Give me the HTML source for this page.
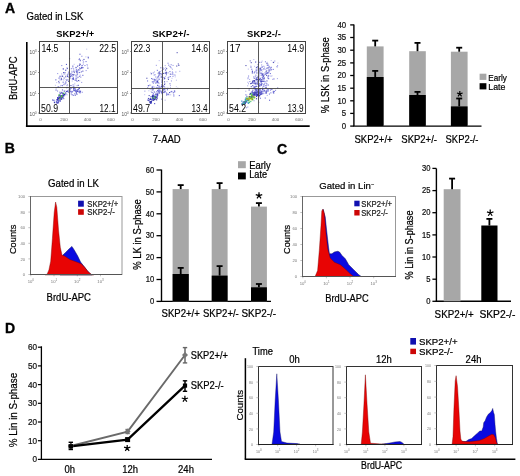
<!DOCTYPE html>
<html><head><meta charset="utf-8"><style>
html,body{margin:0;padding:0;background:#fff;}
svg{display:block;will-change:transform;}
text{font-family:"Liberation Sans", sans-serif;}
</style></head><body>
<svg width="520" height="476" viewBox="0 0 520 476" font-family='"Liberation Sans", sans-serif'>
<rect width="520" height="476" fill="#fff"/>
<text font-size="14" transform="translate(5.00,13.40)" font-weight="bold" stroke="#000" stroke-width="0.35">A</text>
<text font-size="14" transform="translate(4.80,153.20)" font-weight="bold" stroke="#000" stroke-width="0.35">B</text>
<text font-size="14" transform="translate(277.00,153.70)" font-weight="bold" stroke="#000" stroke-width="0.35">C</text>
<text font-size="14" transform="translate(5.00,332.50)" font-weight="bold" stroke="#000" stroke-width="0.35">D</text>
<text font-size="9.5" transform="translate(26.50,19.80) scale(1,1.12)" textLength="56.8" lengthAdjust="spacingAndGlyphs" stroke="#000" stroke-width="0.2">Gated in LSK</text>
<text font-size="9" transform="translate(56.30,36.50) scale(1,1.08)" font-weight="bold" textLength="38.0" lengthAdjust="spacingAndGlyphs">SKP2+/+</text>
<text font-size="9" transform="translate(152.30,36.50) scale(1,1.08)" font-weight="bold" textLength="37.2" lengthAdjust="spacingAndGlyphs">SKP2+/-</text>
<text font-size="9" transform="translate(247.10,36.50) scale(1,1.08)" font-weight="bold" textLength="33.7" lengthAdjust="spacingAndGlyphs">SKP2-/-</text>
<rect x="59.4" y="98.4" width="1.2" height="1.2" fill="#2a2ab0" opacity="0.85"/>
<rect x="58.6" y="97.4" width="1.2" height="1.2" fill="#3333b8" opacity="0.85"/>
<rect x="56.9" y="99.3" width="1.2" height="1.2" fill="#1c1c90" opacity="0.85"/>
<rect x="62.8" y="94.8" width="1.2" height="1.2" fill="#1c1c90" opacity="0.85"/>
<rect x="62.4" y="94.8" width="1.2" height="1.2" fill="#6060d2" opacity="0.85"/>
<rect x="60.7" y="96.4" width="1.2" height="1.2" fill="#3333b8" opacity="0.85"/>
<rect x="56.2" y="102.3" width="1.2" height="1.2" fill="#3333b8" opacity="0.85"/>
<rect x="61.3" y="96.4" width="1.2" height="1.2" fill="#3333b8" opacity="0.85"/>
<rect x="53.3" y="99.7" width="1.2" height="1.2" fill="#3333b8" opacity="0.85"/>
<rect x="56.7" y="99.0" width="1.2" height="1.2" fill="#2a2ab0" opacity="0.85"/>
<rect x="60.2" y="96.4" width="1.2" height="1.2" fill="#1c1c90" opacity="0.85"/>
<rect x="60.1" y="95.2" width="1.2" height="1.2" fill="#24249c" opacity="0.85"/>
<rect x="60.7" y="96.8" width="1.2" height="1.2" fill="#1c1c90" opacity="0.85"/>
<rect x="59.6" y="100.7" width="1.2" height="1.2" fill="#4a4ac8" opacity="0.85"/>
<rect x="62.2" y="97.1" width="1.2" height="1.2" fill="#2a2ab0" opacity="0.85"/>
<rect x="57.1" y="98.0" width="1.2" height="1.2" fill="#4a4ac8" opacity="0.85"/>
<rect x="58.5" y="98.0" width="1.2" height="1.2" fill="#2a2ab0" opacity="0.85"/>
<rect x="61.4" y="95.9" width="1.2" height="1.2" fill="#3333b8" opacity="0.85"/>
<rect x="57.3" y="97.3" width="1.2" height="1.2" fill="#6060d2" opacity="0.85"/>
<rect x="59.5" y="99.8" width="1.2" height="1.2" fill="#4a4ac8" opacity="0.85"/>
<rect x="57.7" y="99.5" width="1.2" height="1.2" fill="#24249c" opacity="0.85"/>
<rect x="59.0" y="94.5" width="1.2" height="1.2" fill="#3434b8" opacity="0.85"/>
<rect x="61.0" y="98.5" width="1.2" height="1.2" fill="#1c1c90" opacity="0.85"/>
<rect x="54.0" y="102.0" width="1.2" height="1.2" fill="#24249c" opacity="0.85"/>
<rect x="58.4" y="96.6" width="1.2" height="1.2" fill="#3434b8" opacity="0.85"/>
<rect x="60.7" y="95.9" width="1.2" height="1.2" fill="#2a2ab0" opacity="0.85"/>
<rect x="56.6" y="101.8" width="1.2" height="1.2" fill="#24249c" opacity="0.85"/>
<rect x="62.2" y="96.5" width="1.2" height="1.2" fill="#4a4ac8" opacity="0.85"/>
<rect x="63.6" y="93.9" width="1.2" height="1.2" fill="#3434b8" opacity="0.85"/>
<rect x="58.4" y="95.5" width="1.2" height="1.2" fill="#1c1c90" opacity="0.85"/>
<rect x="60.4" y="95.0" width="1.2" height="1.2" fill="#6060d2" opacity="0.85"/>
<rect x="57.0" y="97.0" width="1.2" height="1.2" fill="#3434b8" opacity="0.85"/>
<rect x="56.5" y="99.1" width="1.2" height="1.2" fill="#2a2ab0" opacity="0.85"/>
<rect x="60.6" y="91.8" width="1.2" height="1.2" fill="#4a4ac8" opacity="0.85"/>
<rect x="56.0" y="101.2" width="1.2" height="1.2" fill="#6060d2" opacity="0.85"/>
<rect x="63.8" y="94.1" width="1.2" height="1.2" fill="#1c1c90" opacity="0.85"/>
<rect x="52.0" y="99.4" width="1.2" height="1.2" fill="#4a4ac8" opacity="0.85"/>
<rect x="59.6" y="95.5" width="1.2" height="1.2" fill="#6060d2" opacity="0.85"/>
<rect x="57.7" y="101.1" width="1.2" height="1.2" fill="#2a2ab0" opacity="0.85"/>
<rect x="62.5" y="94.6" width="1.2" height="1.2" fill="#3434b8" opacity="0.85"/>
<rect x="60.6" y="97.0" width="1.2" height="1.2" fill="#2a2ab0" opacity="0.85"/>
<rect x="64.2" y="93.8" width="1.2" height="1.2" fill="#24249c" opacity="0.85"/>
<rect x="61.4" y="96.5" width="1.2" height="1.2" fill="#2a2ab0" opacity="0.85"/>
<rect x="56.9" y="102.6" width="1.2" height="1.2" fill="#6060d2" opacity="0.85"/>
<rect x="62.5" y="95.3" width="1.2" height="1.2" fill="#24249c" opacity="0.85"/>
<rect x="53.8" y="101.6" width="1.2" height="1.2" fill="#3434b8" opacity="0.85"/>
<rect x="59.7" y="93.1" width="1.2" height="1.2" fill="#3434b8" opacity="0.85"/>
<rect x="60.1" y="98.7" width="1.2" height="1.2" fill="#6060d2" opacity="0.85"/>
<rect x="57.9" y="102.2" width="1.2" height="1.2" fill="#3434b8" opacity="0.85"/>
<rect x="60.7" y="95.6" width="1.2" height="1.2" fill="#2a2ab0" opacity="0.85"/>
<rect x="61.0" y="97.1" width="1.2" height="1.2" fill="#4a4ac8" opacity="0.85"/>
<rect x="61.0" y="98.1" width="1.2" height="1.2" fill="#24249c" opacity="0.85"/>
<rect x="57.4" y="98.4" width="1.2" height="1.2" fill="#3434b8" opacity="0.85"/>
<rect x="62.2" y="94.6" width="1.2" height="1.2" fill="#6060d2" opacity="0.85"/>
<rect x="58.3" y="100.4" width="1.2" height="1.2" fill="#6060d2" opacity="0.85"/>
<rect x="62.8" y="93.0" width="1.2" height="1.2" fill="#6060d2" opacity="0.85"/>
<rect x="55.8" y="100.6" width="1.2" height="1.2" fill="#6060d2" opacity="0.85"/>
<rect x="58.8" y="97.3" width="1.2" height="1.2" fill="#24249c" opacity="0.85"/>
<rect x="62.0" y="92.5" width="1.2" height="1.2" fill="#6060d2" opacity="0.85"/>
<rect x="61.4" y="92.6" width="1.2" height="1.2" fill="#24249c" opacity="0.85"/>
<rect x="58.2" y="99.9" width="1.2" height="1.2" fill="#6060d2" opacity="0.85"/>
<rect x="63.3" y="95.2" width="1.2" height="1.2" fill="#3333b8" opacity="0.85"/>
<rect x="60.5" y="96.5" width="1.2" height="1.2" fill="#4a4ac8" opacity="0.85"/>
<rect x="60.5" y="97.4" width="1.2" height="1.2" fill="#6060d2" opacity="0.85"/>
<rect x="59.3" y="97.9" width="1.2" height="1.2" fill="#24249c" opacity="0.85"/>
<rect x="61.0" y="95.7" width="1.2" height="1.2" fill="#24249c" opacity="0.85"/>
<rect x="62.0" y="95.9" width="1.2" height="1.2" fill="#3434b8" opacity="0.85"/>
<rect x="65.0" y="92.4" width="1.2" height="1.2" fill="#3333b8" opacity="0.85"/>
<rect x="58.0" y="97.9" width="1.2" height="1.2" fill="#2a2ab0" opacity="0.85"/>
<rect x="60.4" y="98.2" width="1.2" height="1.2" fill="#4a4ac8" opacity="0.85"/>
<rect x="61.1" y="95.0" width="1.4" height="1.4" fill="#38b838" opacity="0.85"/>
<rect x="61.2" y="95.9" width="1.4" height="1.4" fill="#70c040" opacity="0.85"/>
<rect x="58.3" y="94.4" width="1.4" height="1.4" fill="#38b838" opacity="0.85"/>
<rect x="59.1" y="97.9" width="1.4" height="1.4" fill="#70c040" opacity="0.85"/>
<rect x="63.1" y="92.6" width="1.4" height="1.4" fill="#38b838" opacity="0.85"/>
<rect x="60.7" y="96.0" width="1.4" height="1.4" fill="#70c040" opacity="0.85"/>
<rect x="54.9" y="84.8" width="1.1" height="1.1" fill="#c0c0ee" opacity="0.85"/>
<rect x="61.1" y="73.4" width="1.1" height="1.1" fill="#a8a8e8" opacity="0.85"/>
<rect x="56.1" y="82.0" width="1.1" height="1.1" fill="#c0c0ee" opacity="0.85"/>
<rect x="68.1" y="71.8" width="1.1" height="1.1" fill="#7a7adc" opacity="0.85"/>
<rect x="62.9" y="68.6" width="1.1" height="1.1" fill="#a8a8e8" opacity="0.85"/>
<rect x="59.3" y="76.6" width="1.1" height="1.1" fill="#a8a8e8" opacity="0.85"/>
<rect x="69.8" y="75.6" width="1.1" height="1.1" fill="#4a4ac8" opacity="0.85"/>
<rect x="66.3" y="84.9" width="1.1" height="1.1" fill="#a8a8e8" opacity="0.85"/>
<rect x="64.4" y="72.2" width="1.1" height="1.1" fill="#3434b8" opacity="0.85"/>
<rect x="63.6" y="90.8" width="1.1" height="1.1" fill="#a8a8e8" opacity="0.85"/>
<rect x="60.8" y="77.8" width="1.1" height="1.1" fill="#3a3aa8" opacity="0.85"/>
<rect x="65.2" y="76.2" width="1.1" height="1.1" fill="#3a3aa8" opacity="0.85"/>
<rect x="62.7" y="68.3" width="1.1" height="1.1" fill="#3434b8" opacity="0.85"/>
<rect x="70.2" y="73.4" width="1.1" height="1.1" fill="#c0c0ee" opacity="0.85"/>
<rect x="65.4" y="69.6" width="1.1" height="1.1" fill="#a8a8e8" opacity="0.85"/>
<rect x="64.8" y="83.4" width="1.1" height="1.1" fill="#9090e2" opacity="0.85"/>
<rect x="63.6" y="77.5" width="1.1" height="1.1" fill="#4a4ac8" opacity="0.85"/>
<rect x="65.1" y="69.7" width="1.1" height="1.1" fill="#4a4ac8" opacity="0.85"/>
<rect x="57.0" y="90.5" width="1.1" height="1.1" fill="#7a7adc" opacity="0.85"/>
<rect x="61.9" y="89.4" width="1.1" height="1.1" fill="#4a4ac8" opacity="0.85"/>
<rect x="61.6" y="75.5" width="1.1" height="1.1" fill="#4a4ac8" opacity="0.85"/>
<rect x="65.7" y="79.1" width="1.1" height="1.1" fill="#9090e2" opacity="0.85"/>
<rect x="67.5" y="79.1" width="1.1" height="1.1" fill="#9090e2" opacity="0.85"/>
<rect x="66.3" y="79.6" width="1.1" height="1.1" fill="#3434b8" opacity="0.85"/>
<rect x="71.4" y="71.5" width="1.1" height="1.1" fill="#6060d2" opacity="0.85"/>
<rect x="64.5" y="82.8" width="1.1" height="1.1" fill="#9090e2" opacity="0.85"/>
<rect x="55.6" y="87.3" width="1.1" height="1.1" fill="#6060d2" opacity="0.85"/>
<rect x="62.5" y="90.3" width="1.1" height="1.1" fill="#c0c0ee" opacity="0.85"/>
<rect x="60.4" y="84.9" width="1.1" height="1.1" fill="#9090e2" opacity="0.85"/>
<rect x="62.5" y="79.0" width="1.1" height="1.1" fill="#c0c0ee" opacity="0.85"/>
<rect x="62.6" y="81.6" width="1.1" height="1.1" fill="#6060d2" opacity="0.85"/>
<rect x="66.8" y="68.0" width="1.1" height="1.1" fill="#3a3aa8" opacity="0.85"/>
<rect x="67.4" y="76.2" width="1.1" height="1.1" fill="#a8a8e8" opacity="0.85"/>
<rect x="58.5" y="77.6" width="1.1" height="1.1" fill="#4a4ac8" opacity="0.85"/>
<rect x="65.4" y="82.4" width="1.1" height="1.1" fill="#9090e2" opacity="0.85"/>
<rect x="57.7" y="86.6" width="1.1" height="1.1" fill="#3434b8" opacity="0.85"/>
<rect x="67.7" y="73.3" width="1.1" height="1.1" fill="#6060d2" opacity="0.85"/>
<rect x="65.7" y="78.9" width="1.1" height="1.1" fill="#c0c0ee" opacity="0.85"/>
<rect x="59.5" y="75.7" width="1.1" height="1.1" fill="#4a4ac8" opacity="0.85"/>
<rect x="57.7" y="86.1" width="1.1" height="1.1" fill="#9090e2" opacity="0.85"/>
<rect x="63.0" y="72.1" width="1.1" height="1.1" fill="#3434b8" opacity="0.85"/>
<rect x="58.6" y="82.2" width="1.1" height="1.1" fill="#4a4ac8" opacity="0.85"/>
<rect x="59.5" y="86.5" width="1.1" height="1.1" fill="#9090e2" opacity="0.85"/>
<rect x="61.8" y="85.1" width="1.1" height="1.1" fill="#4a4ac8" opacity="0.85"/>
<rect x="59.2" y="91.7" width="1.1" height="1.1" fill="#7a7adc" opacity="0.85"/>
<rect x="55.3" y="79.3" width="1.1" height="1.1" fill="#4a4ac8" opacity="0.85"/>
<rect x="63.6" y="73.6" width="1.1" height="1.1" fill="#9090e2" opacity="0.85"/>
<rect x="55.5" y="89.5" width="1.1" height="1.1" fill="#4a4ac8" opacity="0.85"/>
<rect x="62.1" y="75.8" width="1.1" height="1.1" fill="#3a3aa8" opacity="0.85"/>
<rect x="67.1" y="74.5" width="1.1" height="1.1" fill="#3434b8" opacity="0.85"/>
<rect x="65.4" y="74.6" width="1.1" height="1.1" fill="#a8a8e8" opacity="0.85"/>
<rect x="67.9" y="71.3" width="1.1" height="1.1" fill="#c0c0ee" opacity="0.85"/>
<rect x="57.1" y="73.0" width="1.1" height="1.1" fill="#9090e2" opacity="0.85"/>
<rect x="69.1" y="74.5" width="1.1" height="1.1" fill="#6060d2" opacity="0.85"/>
<rect x="60.8" y="79.1" width="1.1" height="1.1" fill="#3434b8" opacity="0.85"/>
<rect x="61.2" y="65.0" width="1.1" height="1.1" fill="#7a7adc" opacity="0.85"/>
<rect x="71.9" y="78.3" width="1.1" height="1.1" fill="#4a4ac8" opacity="0.85"/>
<rect x="63.4" y="84.1" width="1.1" height="1.1" fill="#6060d2" opacity="0.85"/>
<rect x="66.5" y="67.2" width="1.1" height="1.1" fill="#9090e2" opacity="0.85"/>
<rect x="67.1" y="75.9" width="1.1" height="1.1" fill="#3434b8" opacity="0.85"/>
<rect x="87.3" y="67.6" width="1.1" height="1.1" fill="#3a3aa8" opacity="0.85"/>
<rect x="69.5" y="77.4" width="1.1" height="1.1" fill="#3434b8" opacity="0.85"/>
<rect x="80.9" y="71.3" width="1.1" height="1.1" fill="#6060d2" opacity="0.85"/>
<rect x="72.0" y="73.9" width="1.1" height="1.1" fill="#6060d2" opacity="0.85"/>
<rect x="69.0" y="58.1" width="1.1" height="1.1" fill="#3a3aa8" opacity="0.85"/>
<rect x="76.9" y="70.5" width="1.1" height="1.1" fill="#c0c0ee" opacity="0.85"/>
<rect x="65.1" y="94.4" width="1.1" height="1.1" fill="#a8a8e8" opacity="0.85"/>
<rect x="72.9" y="78.0" width="1.1" height="1.1" fill="#9090e2" opacity="0.85"/>
<rect x="72.5" y="84.1" width="1.1" height="1.1" fill="#9090e2" opacity="0.85"/>
<rect x="68.4" y="77.0" width="1.1" height="1.1" fill="#9090e2" opacity="0.85"/>
<rect x="66.2" y="87.4" width="1.1" height="1.1" fill="#9090e2" opacity="0.85"/>
<rect x="78.6" y="64.9" width="1.1" height="1.1" fill="#c0c0ee" opacity="0.85"/>
<rect x="79.2" y="71.9" width="1.1" height="1.1" fill="#7a7adc" opacity="0.85"/>
<rect x="85.6" y="70.0" width="1.1" height="1.1" fill="#9090e2" opacity="0.85"/>
<rect x="73.8" y="71.7" width="1.1" height="1.1" fill="#3a3aa8" opacity="0.85"/>
<rect x="86.1" y="48.6" width="1.1" height="1.1" fill="#c0c0ee" opacity="0.85"/>
<rect x="75.8" y="71.0" width="1.1" height="1.1" fill="#4a4ac8" opacity="0.85"/>
<rect x="65.2" y="81.4" width="1.1" height="1.1" fill="#6060d2" opacity="0.85"/>
<rect x="75.4" y="74.7" width="1.1" height="1.1" fill="#6060d2" opacity="0.85"/>
<rect x="71.1" y="74.6" width="1.1" height="1.1" fill="#4a4ac8" opacity="0.85"/>
<rect x="65.5" y="93.5" width="1.1" height="1.1" fill="#7a7adc" opacity="0.85"/>
<rect x="68.0" y="80.7" width="1.1" height="1.1" fill="#3a3aa8" opacity="0.85"/>
<rect x="79.0" y="67.3" width="1.1" height="1.1" fill="#7a7adc" opacity="0.85"/>
<rect x="76.3" y="72.2" width="1.1" height="1.1" fill="#3a3aa8" opacity="0.85"/>
<rect x="76.2" y="77.9" width="1.1" height="1.1" fill="#a8a8e8" opacity="0.85"/>
<rect x="79.0" y="64.7" width="1.1" height="1.1" fill="#3a3aa8" opacity="0.85"/>
<rect x="85.3" y="56.3" width="1.1" height="1.1" fill="#c0c0ee" opacity="0.85"/>
<rect x="78.7" y="72.0" width="1.1" height="1.1" fill="#6060d2" opacity="0.85"/>
<rect x="76.5" y="74.4" width="1.1" height="1.1" fill="#7a7adc" opacity="0.85"/>
<rect x="80.2" y="76.6" width="1.1" height="1.1" fill="#7a7adc" opacity="0.85"/>
<rect x="82.3" y="74.8" width="1.1" height="1.1" fill="#4a4ac8" opacity="0.85"/>
<rect x="85.5" y="61.0" width="1.1" height="1.1" fill="#6060d2" opacity="0.85"/>
<rect x="82.9" y="67.1" width="1.1" height="1.1" fill="#a8a8e8" opacity="0.85"/>
<rect x="75.4" y="78.3" width="1.1" height="1.1" fill="#4a4ac8" opacity="0.85"/>
<rect x="73.8" y="73.8" width="1.1" height="1.1" fill="#a8a8e8" opacity="0.85"/>
<rect x="81.3" y="55.7" width="1.1" height="1.1" fill="#7a7adc" opacity="0.85"/>
<rect x="86.9" y="65.3" width="1.1" height="1.1" fill="#a8a8e8" opacity="0.85"/>
<rect x="72.3" y="67.4" width="1.1" height="1.1" fill="#9090e2" opacity="0.85"/>
<rect x="70.8" y="68.1" width="1.1" height="1.1" fill="#7a7adc" opacity="0.85"/>
<rect x="73.0" y="78.7" width="1.1" height="1.1" fill="#3434b8" opacity="0.85"/>
<rect x="73.1" y="74.7" width="1.1" height="1.1" fill="#c0c0ee" opacity="0.85"/>
<rect x="73.6" y="63.8" width="1.1" height="1.1" fill="#c0c0ee" opacity="0.85"/>
<rect x="71.7" y="80.5" width="1.1" height="1.1" fill="#c0c0ee" opacity="0.85"/>
<rect x="70.5" y="73.0" width="1.1" height="1.1" fill="#7a7adc" opacity="0.85"/>
<rect x="78.1" y="59.0" width="1.1" height="1.1" fill="#c0c0ee" opacity="0.85"/>
<rect x="66.9" y="84.3" width="1.1" height="1.1" fill="#9090e2" opacity="0.85"/>
<rect x="82.3" y="59.9" width="1.1" height="1.1" fill="#a8a8e8" opacity="0.85"/>
<rect x="72.3" y="65.6" width="1.1" height="1.1" fill="#3434b8" opacity="0.85"/>
<rect x="79.8" y="60.1" width="1.1" height="1.1" fill="#3a3aa8" opacity="0.85"/>
<rect x="77.5" y="70.2" width="1.1" height="1.1" fill="#9090e2" opacity="0.85"/>
<rect x="62.8" y="82.2" width="1.1" height="1.1" fill="#a8a8e8" opacity="0.85"/>
<rect x="75.8" y="79.7" width="1.1" height="1.1" fill="#6060d2" opacity="0.85"/>
<rect x="76.9" y="70.6" width="1.1" height="1.1" fill="#7a7adc" opacity="0.85"/>
<rect x="72.7" y="77.7" width="1.1" height="1.1" fill="#4a4ac8" opacity="0.85"/>
<rect x="79.6" y="74.6" width="1.1" height="1.1" fill="#9090e2" opacity="0.85"/>
<rect x="87.6" y="56.5" width="1.1" height="1.1" fill="#7a7adc" opacity="0.85"/>
<rect x="76.4" y="68.7" width="1.1" height="1.1" fill="#c0c0ee" opacity="0.85"/>
<rect x="68.8" y="84.9" width="1.1" height="1.1" fill="#c0c0ee" opacity="0.85"/>
<rect x="70.2" y="87.2" width="1.1" height="1.1" fill="#3a3aa8" opacity="0.85"/>
<rect x="75.4" y="67.6" width="1.1" height="1.1" fill="#c0c0ee" opacity="0.85"/>
<rect x="73.5" y="70.5" width="1.1" height="1.1" fill="#9090e2" opacity="0.85"/>
<rect x="70.3" y="75.8" width="1.1" height="1.1" fill="#3434b8" opacity="0.85"/>
<rect x="75.7" y="69.6" width="1.1" height="1.1" fill="#6060d2" opacity="0.85"/>
<rect x="77.1" y="65.6" width="1.1" height="1.1" fill="#3434b8" opacity="0.85"/>
<rect x="82.6" y="61.6" width="1.1" height="1.1" fill="#c0c0ee" opacity="0.85"/>
<rect x="82.3" y="70.6" width="1.1" height="1.1" fill="#3a3aa8" opacity="0.85"/>
<rect x="77.9" y="80.0" width="1.1" height="1.1" fill="#3a3aa8" opacity="0.85"/>
<rect x="69.4" y="73.8" width="1.1" height="1.1" fill="#3434b8" opacity="0.85"/>
<rect x="82.0" y="67.2" width="1.1" height="1.1" fill="#4a4ac8" opacity="0.85"/>
<rect x="66.7" y="94.2" width="1.1" height="1.1" fill="#c0c0ee" opacity="0.85"/>
<rect x="79.6" y="68.1" width="1.1" height="1.1" fill="#3a3aa8" opacity="0.85"/>
<rect x="70.4" y="85.0" width="1.1" height="1.1" fill="#3a3aa8" opacity="0.85"/>
<rect x="79.0" y="75.9" width="1.1" height="1.1" fill="#7a7adc" opacity="0.85"/>
<rect x="65.9" y="63.9" width="1.1" height="1.1" fill="#4a4ac8" opacity="0.85"/>
<rect x="71.9" y="78.3" width="1.1" height="1.1" fill="#7a7adc" opacity="0.85"/>
<rect x="81.8" y="65.1" width="1.1" height="1.1" fill="#6060d2" opacity="0.85"/>
<rect x="77.0" y="73.5" width="1.1" height="1.1" fill="#6060d2" opacity="0.85"/>
<rect x="63.2" y="98.1" width="1.1" height="1.1" fill="#4a4ac8" opacity="0.85"/>
<rect x="79.6" y="63.9" width="1.1" height="1.1" fill="#3a3aa8" opacity="0.85"/>
<rect x="79.4" y="53.7" width="1.1" height="1.1" fill="#4a4ac8" opacity="0.85"/>
<rect x="78.2" y="69.2" width="1.1" height="1.1" fill="#3434b8" opacity="0.85"/>
<rect x="73.1" y="70.8" width="1.1" height="1.1" fill="#3434b8" opacity="0.85"/>
<rect x="76.5" y="80.8" width="1.1" height="1.1" fill="#6060d2" opacity="0.85"/>
<rect x="71.8" y="75.5" width="1.1" height="1.1" fill="#7a7adc" opacity="0.85"/>
<rect x="81.0" y="67.1" width="1.1" height="1.1" fill="#3434b8" opacity="0.85"/>
<rect x="68.3" y="88.7" width="1.1" height="1.1" fill="#9090e2" opacity="0.85"/>
<rect x="75.6" y="76.4" width="1.1" height="1.1" fill="#6060d2" opacity="0.85"/>
<rect x="79.8" y="59.5" width="1.1" height="1.1" fill="#9090e2" opacity="0.85"/>
<rect x="74.2" y="84.4" width="1.1" height="1.1" fill="#c0c0ee" opacity="0.85"/>
<rect x="74.6" y="79.7" width="1.1" height="1.1" fill="#4a4ac8" opacity="0.85"/>
<rect x="80.7" y="67.7" width="1.1" height="1.1" fill="#4a4ac8" opacity="0.85"/>
<rect x="77.4" y="76.7" width="1.1" height="1.1" fill="#4a4ac8" opacity="0.85"/>
<rect x="73.9" y="89.9" width="1.1" height="1.1" fill="#9090e2" opacity="0.85"/>
<rect x="76.7" y="71.8" width="1.1" height="1.1" fill="#7a7adc" opacity="0.85"/>
<rect x="73.1" y="71.1" width="1.1" height="1.1" fill="#c0c0ee" opacity="0.85"/>
<rect x="80.9" y="65.2" width="1.1" height="1.1" fill="#9090e2" opacity="0.85"/>
<rect x="76.0" y="69.3" width="1.1" height="1.1" fill="#7a7adc" opacity="0.85"/>
<rect x="78.9" y="58.5" width="1.1" height="1.1" fill="#3434b8" opacity="0.85"/>
<rect x="75.5" y="66.9" width="1.1" height="1.1" fill="#3434b8" opacity="0.85"/>
<rect x="83.0" y="61.4" width="1.1" height="1.1" fill="#9090e2" opacity="0.85"/>
<rect x="73.0" y="74.3" width="1.1" height="1.1" fill="#3a3aa8" opacity="0.85"/>
<rect x="79.3" y="63.1" width="1.1" height="1.1" fill="#9090e2" opacity="0.85"/>
<rect x="79.1" y="80.3" width="1.1" height="1.1" fill="#a8a8e8" opacity="0.85"/>
<rect x="73.1" y="68.4" width="1.1" height="1.1" fill="#7a7adc" opacity="0.85"/>
<rect x="83.4" y="58.9" width="1.1" height="1.1" fill="#3a3aa8" opacity="0.85"/>
<rect x="74.1" y="87.5" width="1.1" height="1.1" fill="#7a7adc" opacity="0.85"/>
<rect x="72.8" y="76.8" width="1.1" height="1.1" fill="#7a7adc" opacity="0.85"/>
<rect x="87.8" y="57.3" width="1.1" height="1.1" fill="#3434b8" opacity="0.85"/>
<rect x="74.2" y="82.8" width="1.1" height="1.1" fill="#c0c0ee" opacity="0.85"/>
<rect x="86.5" y="64.0" width="1.1" height="1.1" fill="#9090e2" opacity="0.85"/>
<rect x="76.8" y="90.5" width="1.1" height="1.1" fill="#7a7adc" opacity="0.85"/>
<rect x="78.9" y="87.8" width="1.1" height="1.1" fill="#3434b8" opacity="0.85"/>
<rect x="76.8" y="90.8" width="1.1" height="1.1" fill="#3434b8" opacity="0.85"/>
<rect x="70.2" y="91.0" width="1.1" height="1.1" fill="#7a7adc" opacity="0.85"/>
<rect x="67.1" y="90.2" width="1.1" height="1.1" fill="#9090e2" opacity="0.85"/>
<rect x="73.2" y="87.9" width="1.1" height="1.1" fill="#9090e2" opacity="0.85"/>
<rect x="73.6" y="90.2" width="1.1" height="1.1" fill="#6060d2" opacity="0.85"/>
<rect x="71.7" y="94.3" width="1.1" height="1.1" fill="#4a4ac8" opacity="0.85"/>
<rect x="78.8" y="91.1" width="1.1" height="1.1" fill="#7a7adc" opacity="0.85"/>
<rect x="76.4" y="93.7" width="1.1" height="1.1" fill="#3434b8" opacity="0.85"/>
<rect x="75.7" y="92.4" width="1.1" height="1.1" fill="#3434b8" opacity="0.85"/>
<rect x="73.1" y="94.8" width="1.1" height="1.1" fill="#6060d2" opacity="0.85"/>
<rect x="78.9" y="92.0" width="1.1" height="1.1" fill="#9090e2" opacity="0.85"/>
<rect x="66.6" y="86.9" width="1.1" height="1.1" fill="#3434b8" opacity="0.85"/>
<rect x="64.2" y="90.5" width="1.1" height="1.1" fill="#4a4ac8" opacity="0.85"/>
<rect x="79.7" y="91.1" width="1.1" height="1.1" fill="#3434b8" opacity="0.85"/>
<rect x="75.3" y="89.6" width="1.1" height="1.1" fill="#7a7adc" opacity="0.85"/>
<rect x="80.0" y="90.5" width="1.1" height="1.1" fill="#7a7adc" opacity="0.85"/>
<rect x="67.9" y="91.8" width="1.1" height="1.1" fill="#7a7adc" opacity="0.85"/>
<rect x="76.0" y="92.3" width="1.1" height="1.1" fill="#4a4ac8" opacity="0.85"/>
<rect x="73.1" y="88.1" width="1.1" height="1.1" fill="#4a4ac8" opacity="0.85"/>
<rect x="75.4" y="90.6" width="1.1" height="1.1" fill="#4a4ac8" opacity="0.85"/>
<rect x="75.5" y="91.3" width="1.1" height="1.1" fill="#7a7adc" opacity="0.85"/>
<rect x="70.8" y="87.7" width="1.1" height="1.1" fill="#7a7adc" opacity="0.85"/>
<rect x="70.2" y="90.4" width="1.1" height="1.1" fill="#9090e2" opacity="0.85"/>
<rect x="72.7" y="85.7" width="1.1" height="1.1" fill="#4a4ac8" opacity="0.85"/>
<rect x="78.8" y="89.8" width="1.1" height="1.1" fill="#9090e2" opacity="0.85"/>
<rect x="75.4" y="90.6" width="1.1" height="1.1" fill="#3434b8" opacity="0.85"/>
<rect x="78.1" y="91.2" width="1.1" height="1.1" fill="#6060d2" opacity="0.85"/>
<rect x="78.3" y="88.1" width="1.1" height="1.1" fill="#6060d2" opacity="0.85"/>
<rect x="74.2" y="87.8" width="1.1" height="1.1" fill="#6060d2" opacity="0.85"/>
<rect x="74.5" y="88.0" width="1.1" height="1.1" fill="#9090e2" opacity="0.85"/>
<rect x="74.6" y="89.1" width="1.1" height="1.1" fill="#6060d2" opacity="0.85"/>
<rect x="73.2" y="88.5" width="1.1" height="1.1" fill="#6060d2" opacity="0.85"/>
<rect x="69.3" y="89.4" width="1.1" height="1.1" fill="#6060d2" opacity="0.85"/>
<rect x="70.7" y="93.4" width="1.1" height="1.1" fill="#6060d2" opacity="0.85"/>
<rect x="67.7" y="90.5" width="1.1" height="1.1" fill="#4a4ac8" opacity="0.85"/>
<rect x="74.1" y="93.2" width="1.1" height="1.1" fill="#7a7adc" opacity="0.85"/>
<rect x="70.4" y="91.3" width="1.1" height="1.1" fill="#4a4ac8" opacity="0.85"/>
<rect x="66.1" y="90.9" width="1.1" height="1.1" fill="#4a4ac8" opacity="0.85"/>
<rect x="76.7" y="90.6" width="1.1" height="1.1" fill="#4a4ac8" opacity="0.85"/>
<rect x="79.7" y="91.2" width="1.1" height="1.1" fill="#4a4ac8" opacity="0.85"/>
<rect x="71.4" y="91.6" width="1.1" height="1.1" fill="#4a4ac8" opacity="0.85"/>
<rect x="75.3" y="89.8" width="1.1" height="1.1" fill="#6060d2" opacity="0.85"/>
<rect x="73.8" y="86.5" width="1.1" height="1.1" fill="#9090e2" opacity="0.85"/>
<rect x="77.4" y="89.1" width="1.1" height="1.1" fill="#4a4ac8" opacity="0.85"/>
<rect x="72.9" y="87.0" width="1.1" height="1.1" fill="#6060d2" opacity="0.85"/>
<rect x="77.7" y="84.8" width="1.1" height="1.1" fill="#3434b8" opacity="0.85"/>
<rect x="81.7" y="91.7" width="1.1" height="1.1" fill="#7a7adc" opacity="0.85"/>
<rect x="79.6" y="92.3" width="1.1" height="1.1" fill="#6060d2" opacity="0.85"/>
<rect x="66.4" y="90.9" width="1.1" height="1.1" fill="#4a4ac8" opacity="0.85"/>
<rect x="76.5" y="85.1" width="1.1" height="1.1" fill="#9090e2" opacity="0.85"/>
<rect x="75.0" y="88.9" width="1.1" height="1.1" fill="#9090e2" opacity="0.85"/>
<rect x="73.4" y="90.0" width="1.1" height="1.1" fill="#4a4ac8" opacity="0.85"/>
<rect x="77.5" y="89.2" width="1.1" height="1.1" fill="#3434b8" opacity="0.85"/>
<rect x="73.1" y="88.8" width="1.1" height="1.1" fill="#7a7adc" opacity="0.85"/>
<rect x="74.8" y="94.6" width="1.1" height="1.1" fill="#3434b8" opacity="0.85"/>
<rect x="66.4" y="91.0" width="1.1" height="1.1" fill="#3434b8" opacity="0.85"/>
<rect x="69.6" y="88.4" width="1.1" height="1.1" fill="#3434b8" opacity="0.85"/>
<rect x="71.9" y="90.9" width="1.1" height="1.1" fill="#7a7adc" opacity="0.85"/>
<rect x="84.5" y="65.0" width="1.0" height="1.0" fill="#7a7adc" opacity="0.85"/>
<rect x="71.4" y="70.6" width="1.0" height="1.0" fill="#a8a8e8" opacity="0.85"/>
<rect x="84.3" y="65.1" width="1.0" height="1.0" fill="#a8a8e8" opacity="0.85"/>
<rect x="59.5" y="79.4" width="1.0" height="1.0" fill="#9090e2" opacity="0.85"/>
<rect x="82.8" y="63.6" width="1.0" height="1.0" fill="#7a7adc" opacity="0.85"/>
<rect x="60.3" y="76.0" width="1.0" height="1.0" fill="#9090e2" opacity="0.85"/>
<rect x="63.3" y="79.5" width="1.0" height="1.0" fill="#a8a8e8" opacity="0.85"/>
<rect x="81.2" y="81.9" width="1.0" height="1.0" fill="#7a7adc" opacity="0.85"/>
<rect x="58.2" y="80.9" width="1.0" height="1.0" fill="#3a3aa8" opacity="0.85"/>
<rect x="79.3" y="69.6" width="1.0" height="1.0" fill="#9090e2" opacity="0.85"/>
<rect x="39.5" y="41.5" width="78.0" height="72.0" fill="none" stroke="#444" stroke-width="1.0"/>
<line x1="69.5" y1="41.5" x2="69.5" y2="113.5" stroke="#444" stroke-width="0.9"/>
<line x1="39.5" y1="87.5" x2="117.5" y2="87.5" stroke="#444" stroke-width="0.9"/>
<text font-size="10" transform="translate(41.40,52.00)" textLength="17.0" lengthAdjust="spacingAndGlyphs">14.5</text>
<text font-size="10" transform="translate(116.20,52.00)" text-anchor="end" textLength="17.0" lengthAdjust="spacingAndGlyphs">22.5</text>
<text font-size="10" transform="translate(41.10,111.80)" textLength="17.0" lengthAdjust="spacingAndGlyphs">50.9</text>
<text font-size="10" transform="translate(115.50,111.80)" text-anchor="end" textLength="16.0" lengthAdjust="spacingAndGlyphs">12.1</text>
<text font-size="4.8" transform="translate(29.50,54.30)" fill="#555">10<tspan font-size="3.4" dy="-2.2">3</tspan></text>
<line x1="38.2" y1="51.5" x2="39.5" y2="51.5" stroke="#555" stroke-width="0.8"/>
<text font-size="4.8" transform="translate(29.50,75.30)" fill="#555">10<tspan font-size="3.4" dy="-2.2">2</tspan></text>
<line x1="38.2" y1="72.5" x2="39.5" y2="72.5" stroke="#555" stroke-width="0.8"/>
<text font-size="4.8" transform="translate(29.50,96.30)" fill="#555">10<tspan font-size="3.4" dy="-2.2">1</tspan></text>
<line x1="38.2" y1="93.5" x2="39.5" y2="93.5" stroke="#555" stroke-width="0.8"/>
<text font-size="4.8" transform="translate(29.50,115.80)" fill="#555">10<tspan font-size="3.4" dy="-2.2">0</tspan></text>
<line x1="38.2" y1="113.0" x2="39.5" y2="113.0" stroke="#555" stroke-width="0.8"/>
<text font-size="4.4" transform="translate(40.50,120.50)" text-anchor="middle" fill="#666">0</text>
<text font-size="4.4" transform="translate(64.00,120.50)" text-anchor="middle" fill="#666">200</text>
<text font-size="4.4" transform="translate(87.50,120.50)" text-anchor="middle" fill="#666">400</text>
<text font-size="4.4" transform="translate(111.00,120.50)" text-anchor="middle" fill="#666">600</text>
<rect x="152.2" y="94.8" width="1.2" height="1.2" fill="#3434b8" opacity="0.85"/>
<rect x="150.4" y="101.0" width="1.2" height="1.2" fill="#3434b8" opacity="0.85"/>
<rect x="150.9" y="98.8" width="1.2" height="1.2" fill="#4a4ac8" opacity="0.85"/>
<rect x="155.3" y="96.2" width="1.2" height="1.2" fill="#1c1c90" opacity="0.85"/>
<rect x="149.4" y="100.9" width="1.2" height="1.2" fill="#1c1c90" opacity="0.85"/>
<rect x="151.7" y="95.8" width="1.2" height="1.2" fill="#4a4ac8" opacity="0.85"/>
<rect x="154.9" y="98.2" width="1.2" height="1.2" fill="#24249c" opacity="0.85"/>
<rect x="149.6" y="98.8" width="1.2" height="1.2" fill="#1c1c90" opacity="0.85"/>
<rect x="154.0" y="103.0" width="1.2" height="1.2" fill="#4a4ac8" opacity="0.85"/>
<rect x="149.7" y="98.5" width="1.2" height="1.2" fill="#2a2ab0" opacity="0.85"/>
<rect x="156.7" y="95.6" width="1.2" height="1.2" fill="#6060d2" opacity="0.85"/>
<rect x="153.4" y="95.9" width="1.2" height="1.2" fill="#4a4ac8" opacity="0.85"/>
<rect x="156.7" y="94.9" width="1.2" height="1.2" fill="#3434b8" opacity="0.85"/>
<rect x="151.8" y="95.8" width="1.2" height="1.2" fill="#1c1c90" opacity="0.85"/>
<rect x="150.6" y="101.1" width="1.2" height="1.2" fill="#1c1c90" opacity="0.85"/>
<rect x="154.3" y="95.8" width="1.2" height="1.2" fill="#6060d2" opacity="0.85"/>
<rect x="153.1" y="98.4" width="1.2" height="1.2" fill="#3434b8" opacity="0.85"/>
<rect x="155.7" y="96.9" width="1.2" height="1.2" fill="#3333b8" opacity="0.85"/>
<rect x="150.3" y="102.6" width="1.2" height="1.2" fill="#4a4ac8" opacity="0.85"/>
<rect x="152.8" y="98.3" width="1.2" height="1.2" fill="#6060d2" opacity="0.85"/>
<rect x="156.5" y="97.7" width="1.2" height="1.2" fill="#24249c" opacity="0.85"/>
<rect x="150.0" y="101.8" width="1.2" height="1.2" fill="#1c1c90" opacity="0.85"/>
<rect x="155.2" y="94.3" width="1.2" height="1.2" fill="#6060d2" opacity="0.85"/>
<rect x="154.0" y="98.5" width="1.2" height="1.2" fill="#1c1c90" opacity="0.85"/>
<rect x="153.4" y="98.4" width="1.2" height="1.2" fill="#3434b8" opacity="0.85"/>
<rect x="154.8" y="97.0" width="1.2" height="1.2" fill="#4a4ac8" opacity="0.85"/>
<rect x="150.3" y="96.2" width="1.2" height="1.2" fill="#4a4ac8" opacity="0.85"/>
<rect x="151.9" y="96.9" width="1.2" height="1.2" fill="#6060d2" opacity="0.85"/>
<rect x="152.2" y="97.8" width="1.2" height="1.2" fill="#1c1c90" opacity="0.85"/>
<rect x="153.5" y="96.3" width="1.2" height="1.2" fill="#24249c" opacity="0.85"/>
<rect x="148.1" y="99.9" width="1.2" height="1.2" fill="#24249c" opacity="0.85"/>
<rect x="156.5" y="96.5" width="1.2" height="1.2" fill="#3333b8" opacity="0.85"/>
<rect x="147.9" y="97.9" width="1.2" height="1.2" fill="#2a2ab0" opacity="0.85"/>
<rect x="147.1" y="99.5" width="1.2" height="1.2" fill="#6060d2" opacity="0.85"/>
<rect x="148.3" y="99.6" width="1.2" height="1.2" fill="#6060d2" opacity="0.85"/>
<rect x="154.1" y="99.0" width="1.2" height="1.2" fill="#24249c" opacity="0.85"/>
<rect x="151.2" y="99.0" width="1.2" height="1.2" fill="#4a4ac8" opacity="0.85"/>
<rect x="153.2" y="97.0" width="1.2" height="1.2" fill="#6060d2" opacity="0.85"/>
<rect x="151.5" y="99.9" width="1.2" height="1.2" fill="#4a4ac8" opacity="0.85"/>
<rect x="156.5" y="94.0" width="1.2" height="1.2" fill="#24249c" opacity="0.85"/>
<rect x="156.0" y="99.2" width="1.2" height="1.2" fill="#1c1c90" opacity="0.85"/>
<rect x="152.9" y="95.1" width="1.2" height="1.2" fill="#6060d2" opacity="0.85"/>
<rect x="150.0" y="98.5" width="1.2" height="1.2" fill="#2a2ab0" opacity="0.85"/>
<rect x="150.4" y="101.3" width="1.2" height="1.2" fill="#3434b8" opacity="0.85"/>
<rect x="153.3" y="94.5" width="1.2" height="1.2" fill="#6060d2" opacity="0.85"/>
<rect x="149.9" y="98.8" width="1.2" height="1.2" fill="#2a2ab0" opacity="0.85"/>
<rect x="153.0" y="99.7" width="1.2" height="1.2" fill="#24249c" opacity="0.85"/>
<rect x="150.8" y="101.4" width="1.2" height="1.2" fill="#2a2ab0" opacity="0.85"/>
<rect x="152.2" y="98.5" width="1.2" height="1.2" fill="#3434b8" opacity="0.85"/>
<rect x="154.9" y="95.9" width="1.2" height="1.2" fill="#2a2ab0" opacity="0.85"/>
<rect x="149.0" y="102.0" width="1.2" height="1.2" fill="#6060d2" opacity="0.85"/>
<rect x="152.4" y="94.6" width="1.2" height="1.2" fill="#3333b8" opacity="0.85"/>
<rect x="152.0" y="96.5" width="1.2" height="1.2" fill="#24249c" opacity="0.85"/>
<rect x="154.7" y="97.0" width="1.2" height="1.2" fill="#2a2ab0" opacity="0.85"/>
<rect x="150.2" y="102.8" width="1.2" height="1.2" fill="#3434b8" opacity="0.85"/>
<rect x="154.4" y="95.8" width="1.4" height="1.4" fill="#38b838" opacity="0.85"/>
<rect x="152.0" y="97.2" width="1.4" height="1.4" fill="#38b838" opacity="0.85"/>
<rect x="154.1" y="97.4" width="1.4" height="1.4" fill="#70c040" opacity="0.85"/>
<rect x="165.9" y="74.4" width="1.1" height="1.1" fill="#a8a8e8" opacity="0.85"/>
<rect x="147.1" y="87.1" width="1.1" height="1.1" fill="#9090e2" opacity="0.85"/>
<rect x="163.4" y="76.9" width="1.1" height="1.1" fill="#6060d2" opacity="0.85"/>
<rect x="160.9" y="75.7" width="1.1" height="1.1" fill="#9090e2" opacity="0.85"/>
<rect x="152.1" y="86.1" width="1.1" height="1.1" fill="#7a7adc" opacity="0.85"/>
<rect x="154.5" y="74.2" width="1.1" height="1.1" fill="#7a7adc" opacity="0.85"/>
<rect x="148.6" y="95.0" width="1.1" height="1.1" fill="#3a3aa8" opacity="0.85"/>
<rect x="168.2" y="64.6" width="1.1" height="1.1" fill="#6060d2" opacity="0.85"/>
<rect x="151.9" y="86.6" width="1.1" height="1.1" fill="#4a4ac8" opacity="0.85"/>
<rect x="153.7" y="79.5" width="1.1" height="1.1" fill="#4a4ac8" opacity="0.85"/>
<rect x="158.4" y="71.8" width="1.1" height="1.1" fill="#3a3aa8" opacity="0.85"/>
<rect x="158.6" y="91.7" width="1.1" height="1.1" fill="#4a4ac8" opacity="0.85"/>
<rect x="155.6" y="86.7" width="1.1" height="1.1" fill="#a8a8e8" opacity="0.85"/>
<rect x="154.8" y="81.8" width="1.1" height="1.1" fill="#a8a8e8" opacity="0.85"/>
<rect x="154.1" y="78.8" width="1.1" height="1.1" fill="#4a4ac8" opacity="0.85"/>
<rect x="144.1" y="94.1" width="1.1" height="1.1" fill="#c0c0ee" opacity="0.85"/>
<rect x="150.6" y="91.0" width="1.1" height="1.1" fill="#c0c0ee" opacity="0.85"/>
<rect x="156.2" y="82.2" width="1.1" height="1.1" fill="#4a4ac8" opacity="0.85"/>
<rect x="157.6" y="77.8" width="1.1" height="1.1" fill="#c0c0ee" opacity="0.85"/>
<rect x="151.8" y="87.4" width="1.1" height="1.1" fill="#3434b8" opacity="0.85"/>
<rect x="151.0" y="98.2" width="1.1" height="1.1" fill="#a8a8e8" opacity="0.85"/>
<rect x="158.9" y="78.8" width="1.1" height="1.1" fill="#7a7adc" opacity="0.85"/>
<rect x="155.1" y="82.8" width="1.1" height="1.1" fill="#9090e2" opacity="0.85"/>
<rect x="158.0" y="74.8" width="1.1" height="1.1" fill="#9090e2" opacity="0.85"/>
<rect x="159.7" y="76.9" width="1.1" height="1.1" fill="#c0c0ee" opacity="0.85"/>
<rect x="161.2" y="81.6" width="1.1" height="1.1" fill="#6060d2" opacity="0.85"/>
<rect x="153.5" y="86.1" width="1.1" height="1.1" fill="#c0c0ee" opacity="0.85"/>
<rect x="151.4" y="87.5" width="1.1" height="1.1" fill="#7a7adc" opacity="0.85"/>
<rect x="165.7" y="71.7" width="1.1" height="1.1" fill="#3a3aa8" opacity="0.85"/>
<rect x="158.1" y="82.4" width="1.1" height="1.1" fill="#6060d2" opacity="0.85"/>
<rect x="161.4" y="73.7" width="1.1" height="1.1" fill="#3434b8" opacity="0.85"/>
<rect x="153.9" y="71.4" width="1.1" height="1.1" fill="#a8a8e8" opacity="0.85"/>
<rect x="156.3" y="87.4" width="1.1" height="1.1" fill="#a8a8e8" opacity="0.85"/>
<rect x="159.4" y="71.0" width="1.1" height="1.1" fill="#6060d2" opacity="0.85"/>
<rect x="152.9" y="88.3" width="1.1" height="1.1" fill="#3a3aa8" opacity="0.85"/>
<rect x="151.5" y="86.3" width="1.1" height="1.1" fill="#a8a8e8" opacity="0.85"/>
<rect x="156.8" y="69.8" width="1.1" height="1.1" fill="#6060d2" opacity="0.85"/>
<rect x="164.0" y="84.0" width="1.1" height="1.1" fill="#3a3aa8" opacity="0.85"/>
<rect x="159.7" y="73.2" width="1.1" height="1.1" fill="#3a3aa8" opacity="0.85"/>
<rect x="156.2" y="87.1" width="1.1" height="1.1" fill="#9090e2" opacity="0.85"/>
<rect x="161.6" y="70.1" width="1.1" height="1.1" fill="#7a7adc" opacity="0.85"/>
<rect x="159.0" y="72.3" width="1.1" height="1.1" fill="#6060d2" opacity="0.85"/>
<rect x="156.3" y="77.8" width="1.1" height="1.1" fill="#a8a8e8" opacity="0.85"/>
<rect x="161.7" y="80.0" width="1.1" height="1.1" fill="#3a3aa8" opacity="0.85"/>
<rect x="152.8" y="93.0" width="1.1" height="1.1" fill="#7a7adc" opacity="0.85"/>
<rect x="154.4" y="79.6" width="1.1" height="1.1" fill="#7a7adc" opacity="0.85"/>
<rect x="158.3" y="85.2" width="1.1" height="1.1" fill="#9090e2" opacity="0.85"/>
<rect x="162.5" y="67.2" width="1.1" height="1.1" fill="#9090e2" opacity="0.85"/>
<rect x="151.0" y="78.0" width="1.1" height="1.1" fill="#6060d2" opacity="0.85"/>
<rect x="160.3" y="67.2" width="1.1" height="1.1" fill="#6060d2" opacity="0.85"/>
<rect x="151.8" y="81.2" width="1.1" height="1.1" fill="#7a7adc" opacity="0.85"/>
<rect x="151.9" y="81.4" width="1.1" height="1.1" fill="#a8a8e8" opacity="0.85"/>
<rect x="157.9" y="81.9" width="1.1" height="1.1" fill="#a8a8e8" opacity="0.85"/>
<rect x="157.1" y="82.0" width="1.1" height="1.1" fill="#6060d2" opacity="0.85"/>
<rect x="159.5" y="90.0" width="1.1" height="1.1" fill="#7a7adc" opacity="0.85"/>
<rect x="148.0" y="85.3" width="1.1" height="1.1" fill="#a8a8e8" opacity="0.85"/>
<rect x="152.8" y="82.7" width="1.1" height="1.1" fill="#7a7adc" opacity="0.85"/>
<rect x="152.6" y="89.5" width="1.1" height="1.1" fill="#9090e2" opacity="0.85"/>
<rect x="152.3" y="78.6" width="1.1" height="1.1" fill="#4a4ac8" opacity="0.85"/>
<rect x="161.0" y="84.5" width="1.1" height="1.1" fill="#6060d2" opacity="0.85"/>
<rect x="156.9" y="76.6" width="1.1" height="1.1" fill="#4a4ac8" opacity="0.85"/>
<rect x="155.8" y="80.9" width="1.1" height="1.1" fill="#7a7adc" opacity="0.85"/>
<rect x="158.6" y="83.1" width="1.1" height="1.1" fill="#c0c0ee" opacity="0.85"/>
<rect x="147.0" y="80.4" width="1.1" height="1.1" fill="#6060d2" opacity="0.85"/>
<rect x="152.7" y="81.3" width="1.1" height="1.1" fill="#6060d2" opacity="0.85"/>
<rect x="155.1" y="76.4" width="1.1" height="1.1" fill="#9090e2" opacity="0.85"/>
<rect x="164.3" y="83.0" width="1.1" height="1.1" fill="#9090e2" opacity="0.85"/>
<rect x="149.7" y="89.0" width="1.1" height="1.1" fill="#c0c0ee" opacity="0.85"/>
<rect x="144.3" y="90.6" width="1.1" height="1.1" fill="#9090e2" opacity="0.85"/>
<rect x="153.4" y="96.9" width="1.1" height="1.1" fill="#7a7adc" opacity="0.85"/>
<rect x="147.8" y="85.1" width="1.1" height="1.1" fill="#4a4ac8" opacity="0.85"/>
<rect x="155.2" y="94.1" width="1.1" height="1.1" fill="#4a4ac8" opacity="0.85"/>
<rect x="153.0" y="87.6" width="1.1" height="1.1" fill="#9090e2" opacity="0.85"/>
<rect x="161.7" y="80.8" width="1.1" height="1.1" fill="#7a7adc" opacity="0.85"/>
<rect x="163.8" y="68.0" width="1.1" height="1.1" fill="#c0c0ee" opacity="0.85"/>
<rect x="157.0" y="81.1" width="1.1" height="1.1" fill="#3a3aa8" opacity="0.85"/>
<rect x="165.0" y="69.5" width="1.1" height="1.1" fill="#3434b8" opacity="0.85"/>
<rect x="157.0" y="84.8" width="1.1" height="1.1" fill="#3434b8" opacity="0.85"/>
<rect x="156.8" y="79.8" width="1.1" height="1.1" fill="#c0c0ee" opacity="0.85"/>
<rect x="150.1" y="84.6" width="1.1" height="1.1" fill="#c0c0ee" opacity="0.85"/>
<rect x="149.2" y="84.6" width="1.1" height="1.1" fill="#7a7adc" opacity="0.85"/>
<rect x="160.5" y="73.1" width="1.1" height="1.1" fill="#9090e2" opacity="0.85"/>
<rect x="158.6" y="92.7" width="1.1" height="1.1" fill="#3a3aa8" opacity="0.85"/>
<rect x="150.8" y="73.2" width="1.1" height="1.1" fill="#3434b8" opacity="0.85"/>
<rect x="162.8" y="68.6" width="1.1" height="1.1" fill="#6060d2" opacity="0.85"/>
<rect x="155.8" y="64.8" width="1.1" height="1.1" fill="#9090e2" opacity="0.85"/>
<rect x="158.7" y="78.3" width="1.1" height="1.1" fill="#c0c0ee" opacity="0.85"/>
<rect x="157.0" y="80.6" width="1.1" height="1.1" fill="#3434b8" opacity="0.85"/>
<rect x="152.7" y="72.4" width="1.1" height="1.1" fill="#7a7adc" opacity="0.85"/>
<rect x="148.3" y="90.2" width="1.1" height="1.1" fill="#c0c0ee" opacity="0.85"/>
<rect x="152.6" y="85.7" width="1.1" height="1.1" fill="#c0c0ee" opacity="0.85"/>
<rect x="157.7" y="79.4" width="1.1" height="1.1" fill="#7a7adc" opacity="0.85"/>
<rect x="153.6" y="81.1" width="1.1" height="1.1" fill="#7a7adc" opacity="0.85"/>
<rect x="158.6" y="86.4" width="1.1" height="1.1" fill="#6060d2" opacity="0.85"/>
<rect x="158.0" y="76.2" width="1.1" height="1.1" fill="#4a4ac8" opacity="0.85"/>
<rect x="161.0" y="86.0" width="1.1" height="1.1" fill="#3a3aa8" opacity="0.85"/>
<rect x="157.2" y="87.2" width="1.1" height="1.1" fill="#c0c0ee" opacity="0.85"/>
<rect x="157.4" y="72.8" width="1.1" height="1.1" fill="#a8a8e8" opacity="0.85"/>
<rect x="153.6" y="74.5" width="1.1" height="1.1" fill="#9090e2" opacity="0.85"/>
<rect x="158.8" y="74.4" width="1.1" height="1.1" fill="#4a4ac8" opacity="0.85"/>
<rect x="155.2" y="94.9" width="1.1" height="1.1" fill="#c0c0ee" opacity="0.85"/>
<rect x="158.9" y="90.2" width="1.1" height="1.1" fill="#7a7adc" opacity="0.85"/>
<rect x="154.0" y="87.1" width="1.1" height="1.1" fill="#c0c0ee" opacity="0.85"/>
<rect x="155.4" y="79.5" width="1.1" height="1.1" fill="#6060d2" opacity="0.85"/>
<rect x="154.5" y="79.4" width="1.1" height="1.1" fill="#9090e2" opacity="0.85"/>
<rect x="157.4" y="76.8" width="1.1" height="1.1" fill="#c0c0ee" opacity="0.85"/>
<rect x="146.3" y="77.7" width="1.1" height="1.1" fill="#3a3aa8" opacity="0.85"/>
<rect x="158.5" y="73.1" width="1.1" height="1.1" fill="#3a3aa8" opacity="0.85"/>
<rect x="152.7" y="95.9" width="1.1" height="1.1" fill="#3434b8" opacity="0.85"/>
<rect x="160.9" y="79.4" width="1.1" height="1.1" fill="#c0c0ee" opacity="0.85"/>
<rect x="162.4" y="86.3" width="1.1" height="1.1" fill="#a8a8e8" opacity="0.85"/>
<rect x="167.5" y="62.7" width="1.1" height="1.1" fill="#7a7adc" opacity="0.85"/>
<rect x="168.2" y="76.7" width="1.1" height="1.1" fill="#7a7adc" opacity="0.85"/>
<rect x="164.7" y="65.0" width="1.1" height="1.1" fill="#a8a8e8" opacity="0.85"/>
<rect x="171.7" y="72.5" width="1.1" height="1.1" fill="#a8a8e8" opacity="0.85"/>
<rect x="174.7" y="76.3" width="1.1" height="1.1" fill="#c0c0ee" opacity="0.85"/>
<rect x="169.4" y="71.0" width="1.1" height="1.1" fill="#6060d2" opacity="0.85"/>
<rect x="169.9" y="86.8" width="1.1" height="1.1" fill="#a8a8e8" opacity="0.85"/>
<rect x="166.5" y="81.0" width="1.1" height="1.1" fill="#a8a8e8" opacity="0.85"/>
<rect x="167.5" y="77.3" width="1.1" height="1.1" fill="#7a7adc" opacity="0.85"/>
<rect x="165.5" y="72.6" width="1.1" height="1.1" fill="#3a3aa8" opacity="0.85"/>
<rect x="169.9" y="84.9" width="1.1" height="1.1" fill="#a8a8e8" opacity="0.85"/>
<rect x="161.0" y="98.6" width="1.1" height="1.1" fill="#7a7adc" opacity="0.85"/>
<rect x="173.6" y="74.3" width="1.1" height="1.1" fill="#a8a8e8" opacity="0.85"/>
<rect x="170.6" y="64.2" width="1.1" height="1.1" fill="#7a7adc" opacity="0.85"/>
<rect x="161.0" y="82.2" width="1.1" height="1.1" fill="#c0c0ee" opacity="0.85"/>
<rect x="171.5" y="77.8" width="1.1" height="1.1" fill="#c0c0ee" opacity="0.85"/>
<rect x="169.8" y="73.6" width="1.1" height="1.1" fill="#3a3aa8" opacity="0.85"/>
<rect x="169.5" y="66.0" width="1.1" height="1.1" fill="#6060d2" opacity="0.85"/>
<rect x="161.7" y="78.4" width="1.1" height="1.1" fill="#7a7adc" opacity="0.85"/>
<rect x="172.2" y="72.1" width="1.1" height="1.1" fill="#9090e2" opacity="0.85"/>
<rect x="166.5" y="93.0" width="1.1" height="1.1" fill="#a8a8e8" opacity="0.85"/>
<rect x="176.6" y="52.1" width="1.1" height="1.1" fill="#3a3aa8" opacity="0.85"/>
<rect x="170.7" y="67.7" width="1.1" height="1.1" fill="#c0c0ee" opacity="0.85"/>
<rect x="179.2" y="70.8" width="1.1" height="1.1" fill="#a8a8e8" opacity="0.85"/>
<rect x="176.2" y="65.5" width="1.1" height="1.1" fill="#3a3aa8" opacity="0.85"/>
<rect x="174.6" y="74.6" width="1.1" height="1.1" fill="#9090e2" opacity="0.85"/>
<rect x="160.3" y="75.4" width="1.1" height="1.1" fill="#a8a8e8" opacity="0.85"/>
<rect x="175.3" y="71.5" width="1.1" height="1.1" fill="#9090e2" opacity="0.85"/>
<rect x="165.3" y="67.1" width="1.1" height="1.1" fill="#a8a8e8" opacity="0.85"/>
<rect x="164.6" y="99.6" width="1.1" height="1.1" fill="#a8a8e8" opacity="0.85"/>
<rect x="163.1" y="72.9" width="1.1" height="1.1" fill="#3a3aa8" opacity="0.85"/>
<rect x="164.7" y="72.6" width="1.1" height="1.1" fill="#6060d2" opacity="0.85"/>
<rect x="165.9" y="73.7" width="1.1" height="1.1" fill="#7a7adc" opacity="0.85"/>
<rect x="161.2" y="76.7" width="1.1" height="1.1" fill="#3a3aa8" opacity="0.85"/>
<rect x="172.5" y="64.9" width="1.1" height="1.1" fill="#9090e2" opacity="0.85"/>
<rect x="162.7" y="89.4" width="1.1" height="1.1" fill="#3a3aa8" opacity="0.85"/>
<rect x="165.7" y="72.4" width="1.1" height="1.1" fill="#3a3aa8" opacity="0.85"/>
<rect x="163.7" y="78.4" width="1.1" height="1.1" fill="#6060d2" opacity="0.85"/>
<rect x="163.8" y="86.3" width="1.1" height="1.1" fill="#6060d2" opacity="0.85"/>
<rect x="178.1" y="64.6" width="1.1" height="1.1" fill="#c0c0ee" opacity="0.85"/>
<rect x="172.2" y="73.6" width="1.1" height="1.1" fill="#6060d2" opacity="0.85"/>
<rect x="167.9" y="78.8" width="1.1" height="1.1" fill="#3a3aa8" opacity="0.85"/>
<rect x="164.0" y="81.3" width="1.1" height="1.1" fill="#3a3aa8" opacity="0.85"/>
<rect x="170.3" y="66.9" width="1.1" height="1.1" fill="#9090e2" opacity="0.85"/>
<rect x="169.4" y="83.2" width="1.1" height="1.1" fill="#6060d2" opacity="0.85"/>
<rect x="164.6" y="77.8" width="1.1" height="1.1" fill="#c0c0ee" opacity="0.85"/>
<rect x="171.9" y="71.2" width="1.1" height="1.1" fill="#a8a8e8" opacity="0.85"/>
<rect x="161.5" y="82.0" width="1.1" height="1.1" fill="#a8a8e8" opacity="0.85"/>
<rect x="167.5" y="72.3" width="1.1" height="1.1" fill="#7a7adc" opacity="0.85"/>
<rect x="164.2" y="89.0" width="1.1" height="1.1" fill="#6060d2" opacity="0.85"/>
<rect x="172.4" y="75.8" width="1.1" height="1.1" fill="#7a7adc" opacity="0.85"/>
<rect x="162.4" y="85.2" width="1.1" height="1.1" fill="#3a3aa8" opacity="0.85"/>
<rect x="155.2" y="79.3" width="1.1" height="1.1" fill="#a8a8e8" opacity="0.85"/>
<rect x="178.3" y="64.8" width="1.1" height="1.1" fill="#3a3aa8" opacity="0.85"/>
<rect x="161.9" y="85.1" width="1.1" height="1.1" fill="#7a7adc" opacity="0.85"/>
<rect x="170.9" y="80.4" width="1.1" height="1.1" fill="#9090e2" opacity="0.85"/>
<rect x="169.7" y="76.0" width="1.1" height="1.1" fill="#6060d2" opacity="0.85"/>
<rect x="166.1" y="68.1" width="1.1" height="1.1" fill="#3a3aa8" opacity="0.85"/>
<rect x="170.5" y="73.9" width="1.1" height="1.1" fill="#9090e2" opacity="0.85"/>
<rect x="157.8" y="94.4" width="1.1" height="1.1" fill="#9090e2" opacity="0.85"/>
<rect x="151.6" y="89.3" width="1.1" height="1.1" fill="#3434b8" opacity="0.85"/>
<rect x="161.9" y="93.1" width="1.1" height="1.1" fill="#7a7adc" opacity="0.85"/>
<rect x="163.0" y="91.8" width="1.1" height="1.1" fill="#6060d2" opacity="0.85"/>
<rect x="161.7" y="93.1" width="1.1" height="1.1" fill="#6060d2" opacity="0.85"/>
<rect x="158.0" y="91.1" width="1.1" height="1.1" fill="#9090e2" opacity="0.85"/>
<rect x="174.1" y="90.5" width="1.1" height="1.1" fill="#4a4ac8" opacity="0.85"/>
<rect x="160.9" y="92.3" width="1.1" height="1.1" fill="#7a7adc" opacity="0.85"/>
<rect x="160.2" y="91.1" width="1.1" height="1.1" fill="#9090e2" opacity="0.85"/>
<rect x="166.1" y="94.4" width="1.1" height="1.1" fill="#3434b8" opacity="0.85"/>
<rect x="173.3" y="95.4" width="1.1" height="1.1" fill="#6060d2" opacity="0.85"/>
<rect x="178.8" y="95.0" width="1.1" height="1.1" fill="#6060d2" opacity="0.85"/>
<rect x="157.4" y="92.7" width="1.1" height="1.1" fill="#9090e2" opacity="0.85"/>
<rect x="157.0" y="92.7" width="1.1" height="1.1" fill="#7a7adc" opacity="0.85"/>
<rect x="160.9" y="91.7" width="1.1" height="1.1" fill="#7a7adc" opacity="0.85"/>
<rect x="172.8" y="92.2" width="1.1" height="1.1" fill="#4a4ac8" opacity="0.85"/>
<rect x="153.7" y="91.6" width="1.1" height="1.1" fill="#4a4ac8" opacity="0.85"/>
<rect x="169.0" y="92.0" width="1.1" height="1.1" fill="#3434b8" opacity="0.85"/>
<rect x="157.9" y="90.4" width="1.1" height="1.1" fill="#6060d2" opacity="0.85"/>
<rect x="168.0" y="93.7" width="1.1" height="1.1" fill="#4a4ac8" opacity="0.85"/>
<rect x="158.8" y="86.6" width="1.1" height="1.1" fill="#7a7adc" opacity="0.85"/>
<rect x="164.4" y="91.3" width="1.1" height="1.1" fill="#7a7adc" opacity="0.85"/>
<rect x="157.9" y="88.6" width="1.1" height="1.1" fill="#7a7adc" opacity="0.85"/>
<rect x="166.7" y="94.0" width="1.1" height="1.1" fill="#7a7adc" opacity="0.85"/>
<rect x="166.9" y="89.2" width="1.1" height="1.1" fill="#6060d2" opacity="0.85"/>
<rect x="173.2" y="94.1" width="1.1" height="1.1" fill="#9090e2" opacity="0.85"/>
<rect x="174.1" y="91.4" width="1.1" height="1.1" fill="#6060d2" opacity="0.85"/>
<rect x="166.0" y="92.5" width="1.1" height="1.1" fill="#6060d2" opacity="0.85"/>
<rect x="160.3" y="86.6" width="1.1" height="1.1" fill="#6060d2" opacity="0.85"/>
<rect x="163.6" y="91.6" width="1.1" height="1.1" fill="#3434b8" opacity="0.85"/>
<rect x="170.1" y="91.4" width="1.1" height="1.1" fill="#9090e2" opacity="0.85"/>
<rect x="152.3" y="88.6" width="1.1" height="1.1" fill="#9090e2" opacity="0.85"/>
<rect x="156.3" y="91.0" width="1.1" height="1.1" fill="#6060d2" opacity="0.85"/>
<rect x="167.3" y="87.5" width="1.1" height="1.1" fill="#9090e2" opacity="0.85"/>
<rect x="155.5" y="92.7" width="1.1" height="1.1" fill="#3434b8" opacity="0.85"/>
<rect x="161.3" y="91.5" width="1.1" height="1.1" fill="#4a4ac8" opacity="0.85"/>
<rect x="159.9" y="88.2" width="1.1" height="1.1" fill="#9090e2" opacity="0.85"/>
<rect x="171.1" y="90.9" width="1.1" height="1.1" fill="#6060d2" opacity="0.85"/>
<rect x="168.3" y="94.3" width="1.1" height="1.1" fill="#9090e2" opacity="0.85"/>
<rect x="160.8" y="90.7" width="1.1" height="1.1" fill="#7a7adc" opacity="0.85"/>
<rect x="151.5" y="91.9" width="1.1" height="1.1" fill="#4a4ac8" opacity="0.85"/>
<rect x="158.9" y="89.3" width="1.1" height="1.1" fill="#7a7adc" opacity="0.85"/>
<rect x="171.2" y="91.2" width="1.1" height="1.1" fill="#7a7adc" opacity="0.85"/>
<rect x="173.8" y="90.6" width="1.1" height="1.1" fill="#7a7adc" opacity="0.85"/>
<rect x="163.6" y="92.1" width="1.1" height="1.1" fill="#9090e2" opacity="0.85"/>
<rect x="158.7" y="91.3" width="1.1" height="1.1" fill="#4a4ac8" opacity="0.85"/>
<rect x="157.5" y="89.9" width="1.1" height="1.1" fill="#7a7adc" opacity="0.85"/>
<rect x="162.5" y="85.8" width="1.1" height="1.1" fill="#6060d2" opacity="0.85"/>
<rect x="156.9" y="93.8" width="1.1" height="1.1" fill="#3434b8" opacity="0.85"/>
<rect x="162.0" y="89.8" width="1.1" height="1.1" fill="#6060d2" opacity="0.85"/>
<rect x="163.3" y="89.1" width="1.1" height="1.1" fill="#6060d2" opacity="0.85"/>
<rect x="157.0" y="90.0" width="1.1" height="1.1" fill="#6060d2" opacity="0.85"/>
<rect x="157.4" y="86.8" width="1.1" height="1.1" fill="#7a7adc" opacity="0.85"/>
<rect x="164.5" y="90.6" width="1.1" height="1.1" fill="#4a4ac8" opacity="0.85"/>
<rect x="164.9" y="91.2" width="1.1" height="1.1" fill="#9090e2" opacity="0.85"/>
<rect x="175.8" y="86.2" width="1.0" height="1.0" fill="#c0c0ee" opacity="0.85"/>
<rect x="171.9" y="68.7" width="1.0" height="1.0" fill="#9090e2" opacity="0.85"/>
<rect x="153.9" y="91.0" width="1.0" height="1.0" fill="#a8a8e8" opacity="0.85"/>
<rect x="177.8" y="63.4" width="1.0" height="1.0" fill="#3a3aa8" opacity="0.85"/>
<rect x="177.3" y="87.5" width="1.0" height="1.0" fill="#c0c0ee" opacity="0.85"/>
<rect x="165.3" y="86.8" width="1.0" height="1.0" fill="#c0c0ee" opacity="0.85"/>
<rect x="164.0" y="77.8" width="1.0" height="1.0" fill="#3a3aa8" opacity="0.85"/>
<rect x="165.1" y="75.9" width="1.0" height="1.0" fill="#a8a8e8" opacity="0.85"/>
<rect x="160.7" y="87.1" width="1.0" height="1.0" fill="#a8a8e8" opacity="0.85"/>
<rect x="170.2" y="94.3" width="1.0" height="1.0" fill="#a8a8e8" opacity="0.85"/>
<rect x="158.7" y="60.1" width="1.0" height="1.0" fill="#a8a8e8" opacity="0.85"/>
<rect x="161.1" y="84.2" width="1.0" height="1.0" fill="#9090e2" opacity="0.85"/>
<rect x="175.9" y="79.7" width="1.0" height="1.0" fill="#a8a8e8" opacity="0.85"/>
<rect x="150.3" y="72.2" width="1.0" height="1.0" fill="#c0c0ee" opacity="0.85"/>
<rect x="165.1" y="77.8" width="1.0" height="1.0" fill="#c0c0ee" opacity="0.85"/>
<rect x="131.5" y="41.5" width="78.0" height="72.0" fill="none" stroke="#444" stroke-width="1.0"/>
<line x1="162.5" y1="41.5" x2="162.5" y2="113.5" stroke="#444" stroke-width="0.9"/>
<line x1="131.5" y1="88.5" x2="209.5" y2="88.5" stroke="#444" stroke-width="0.9"/>
<text font-size="10" transform="translate(133.40,52.00)" textLength="17.0" lengthAdjust="spacingAndGlyphs">22.3</text>
<text font-size="10" transform="translate(208.20,52.00)" text-anchor="end" textLength="17.0" lengthAdjust="spacingAndGlyphs">14.6</text>
<text font-size="10" transform="translate(133.10,111.80)" textLength="17.0" lengthAdjust="spacingAndGlyphs">49.7</text>
<text font-size="10" transform="translate(207.50,111.80)" text-anchor="end" textLength="16.0" lengthAdjust="spacingAndGlyphs">13.4</text>
<text font-size="4.8" transform="translate(121.50,54.30)" fill="#555">10<tspan font-size="3.4" dy="-2.2">3</tspan></text>
<line x1="130.2" y1="51.5" x2="131.5" y2="51.5" stroke="#555" stroke-width="0.8"/>
<text font-size="4.8" transform="translate(121.50,75.30)" fill="#555">10<tspan font-size="3.4" dy="-2.2">2</tspan></text>
<line x1="130.2" y1="72.5" x2="131.5" y2="72.5" stroke="#555" stroke-width="0.8"/>
<text font-size="4.8" transform="translate(121.50,96.30)" fill="#555">10<tspan font-size="3.4" dy="-2.2">1</tspan></text>
<line x1="130.2" y1="93.5" x2="131.5" y2="93.5" stroke="#555" stroke-width="0.8"/>
<text font-size="4.8" transform="translate(121.50,115.80)" fill="#555">10<tspan font-size="3.4" dy="-2.2">0</tspan></text>
<line x1="130.2" y1="113.0" x2="131.5" y2="113.0" stroke="#555" stroke-width="0.8"/>
<text font-size="4.4" transform="translate(132.50,120.50)" text-anchor="middle" fill="#666">0</text>
<text font-size="4.4" transform="translate(156.00,120.50)" text-anchor="middle" fill="#666">200</text>
<text font-size="4.4" transform="translate(179.50,120.50)" text-anchor="middle" fill="#666">400</text>
<text font-size="4.4" transform="translate(203.00,120.50)" text-anchor="middle" fill="#666">600</text>
<rect x="243.5" y="101.0" width="1.3" height="1.3" fill="#40c070" opacity="0.85"/>
<rect x="245.1" y="97.4" width="1.3" height="1.3" fill="#30b0c0" opacity="0.85"/>
<rect x="247.7" y="102.7" width="1.3" height="1.3" fill="#3a8ad0" opacity="0.85"/>
<rect x="241.3" y="103.5" width="1.3" height="1.3" fill="#40c070" opacity="0.85"/>
<rect x="244.7" y="102.4" width="1.3" height="1.3" fill="#30b0c0" opacity="0.85"/>
<rect x="247.9" y="99.5" width="1.3" height="1.3" fill="#40c070" opacity="0.85"/>
<rect x="247.8" y="99.1" width="1.3" height="1.3" fill="#40c070" opacity="0.85"/>
<rect x="244.8" y="100.4" width="1.3" height="1.3" fill="#30b0c0" opacity="0.85"/>
<rect x="248.7" y="101.5" width="1.3" height="1.3" fill="#50c050" opacity="0.85"/>
<rect x="242.6" y="101.5" width="1.3" height="1.3" fill="#2a2ab0" opacity="0.85"/>
<rect x="248.8" y="101.9" width="1.3" height="1.3" fill="#40c070" opacity="0.85"/>
<rect x="246.0" y="100.8" width="1.3" height="1.3" fill="#3a8ad0" opacity="0.85"/>
<rect x="243.2" y="102.7" width="1.3" height="1.3" fill="#30b0c0" opacity="0.85"/>
<rect x="244.6" y="100.5" width="1.3" height="1.3" fill="#3a8ad0" opacity="0.85"/>
<rect x="246.4" y="98.5" width="1.3" height="1.3" fill="#30b0c0" opacity="0.85"/>
<rect x="248.0" y="98.6" width="1.3" height="1.3" fill="#30b0c0" opacity="0.85"/>
<rect x="246.4" y="99.8" width="1.3" height="1.3" fill="#3a8ad0" opacity="0.85"/>
<rect x="244.3" y="103.2" width="1.3" height="1.3" fill="#2a2ab0" opacity="0.85"/>
<rect x="241.5" y="103.5" width="1.3" height="1.3" fill="#2a2ab0" opacity="0.85"/>
<rect x="248.4" y="96.3" width="1.3" height="1.3" fill="#40c070" opacity="0.85"/>
<rect x="241.1" y="100.5" width="1.3" height="1.3" fill="#3a8ad0" opacity="0.85"/>
<rect x="245.2" y="99.9" width="1.3" height="1.3" fill="#30b0c0" opacity="0.85"/>
<rect x="245.6" y="101.4" width="1.3" height="1.3" fill="#2a2ab0" opacity="0.85"/>
<rect x="251.1" y="98.5" width="1.3" height="1.3" fill="#40c070" opacity="0.85"/>
<rect x="244.3" y="101.2" width="1.3" height="1.3" fill="#2a2ab0" opacity="0.85"/>
<rect x="246.5" y="98.4" width="1.3" height="1.3" fill="#40c070" opacity="0.85"/>
<rect x="247.4" y="101.8" width="1.3" height="1.3" fill="#30b0c0" opacity="0.85"/>
<rect x="250.1" y="100.8" width="1.3" height="1.3" fill="#40c070" opacity="0.85"/>
<rect x="246.4" y="99.5" width="1.3" height="1.3" fill="#3a8ad0" opacity="0.85"/>
<rect x="245.2" y="100.5" width="1.3" height="1.3" fill="#50c050" opacity="0.85"/>
<rect x="247.0" y="98.7" width="1.3" height="1.3" fill="#40c070" opacity="0.85"/>
<rect x="241.9" y="102.7" width="1.3" height="1.3" fill="#3a8ad0" opacity="0.85"/>
<rect x="245.1" y="98.8" width="1.3" height="1.3" fill="#40c070" opacity="0.85"/>
<rect x="247.8" y="99.7" width="1.3" height="1.3" fill="#2a2ab0" opacity="0.85"/>
<rect x="247.3" y="99.2" width="1.3" height="1.3" fill="#3a8ad0" opacity="0.85"/>
<rect x="244.7" y="98.7" width="1.3" height="1.3" fill="#3a8ad0" opacity="0.85"/>
<rect x="243.1" y="103.0" width="1.3" height="1.3" fill="#40c070" opacity="0.85"/>
<rect x="243.8" y="101.9" width="1.3" height="1.3" fill="#40c070" opacity="0.85"/>
<rect x="244.6" y="102.1" width="1.3" height="1.3" fill="#30b0c0" opacity="0.85"/>
<rect x="244.6" y="102.3" width="1.3" height="1.3" fill="#2a2ab0" opacity="0.85"/>
<rect x="248.5" y="97.3" width="1.4" height="1.4" fill="#38b838" opacity="0.85"/>
<rect x="250.6" y="95.6" width="1.4" height="1.4" fill="#50c090" opacity="0.85"/>
<rect x="252.9" y="96.5" width="1.4" height="1.4" fill="#d8c020" opacity="0.85"/>
<rect x="249.3" y="97.6" width="1.4" height="1.4" fill="#d8c020" opacity="0.85"/>
<rect x="247.2" y="98.5" width="1.4" height="1.4" fill="#e0a020" opacity="0.85"/>
<rect x="250.2" y="93.4" width="1.4" height="1.4" fill="#38b838" opacity="0.85"/>
<rect x="246.0" y="98.2" width="1.4" height="1.4" fill="#e0a020" opacity="0.85"/>
<rect x="254.1" y="96.6" width="1.4" height="1.4" fill="#e0a020" opacity="0.85"/>
<rect x="252.7" y="95.2" width="1.4" height="1.4" fill="#70c040" opacity="0.85"/>
<rect x="250.9" y="97.8" width="1.4" height="1.4" fill="#38b838" opacity="0.85"/>
<rect x="251.4" y="97.9" width="1.4" height="1.4" fill="#70c040" opacity="0.85"/>
<rect x="249.6" y="97.8" width="1.4" height="1.4" fill="#38b838" opacity="0.85"/>
<rect x="251.9" y="92.1" width="1.4" height="1.4" fill="#70c040" opacity="0.85"/>
<rect x="253.3" y="97.0" width="1.4" height="1.4" fill="#e0a020" opacity="0.85"/>
<rect x="248.3" y="98.8" width="1.4" height="1.4" fill="#70c040" opacity="0.85"/>
<rect x="248.0" y="98.1" width="1.4" height="1.4" fill="#70c040" opacity="0.85"/>
<rect x="250.2" y="93.2" width="1.4" height="1.4" fill="#38b838" opacity="0.85"/>
<rect x="250.7" y="98.2" width="1.4" height="1.4" fill="#b8c830" opacity="0.85"/>
<rect x="252.9" y="95.8" width="1.4" height="1.4" fill="#b8c830" opacity="0.85"/>
<rect x="250.7" y="97.7" width="1.4" height="1.4" fill="#e0a020" opacity="0.85"/>
<rect x="251.3" y="94.7" width="1.4" height="1.4" fill="#38b838" opacity="0.85"/>
<rect x="251.1" y="97.4" width="1.4" height="1.4" fill="#38b838" opacity="0.85"/>
<rect x="246.3" y="97.4" width="1.4" height="1.4" fill="#38b838" opacity="0.85"/>
<rect x="252.6" y="93.9" width="1.4" height="1.4" fill="#50c090" opacity="0.85"/>
<rect x="250.2" y="96.0" width="1.4" height="1.4" fill="#50c090" opacity="0.85"/>
<rect x="253.5" y="96.9" width="1.4" height="1.4" fill="#70c040" opacity="0.85"/>
<rect x="249.2" y="96.8" width="1.4" height="1.4" fill="#b8c830" opacity="0.85"/>
<rect x="250.5" y="97.0" width="1.4" height="1.4" fill="#38b838" opacity="0.85"/>
<rect x="248.7" y="96.0" width="1.4" height="1.4" fill="#e0a020" opacity="0.85"/>
<rect x="251.9" y="93.0" width="1.4" height="1.4" fill="#50c090" opacity="0.85"/>
<rect x="248.4" y="97.9" width="1.4" height="1.4" fill="#e0a020" opacity="0.85"/>
<rect x="250.8" y="98.9" width="1.4" height="1.4" fill="#d8c020" opacity="0.85"/>
<rect x="251.3" y="96.1" width="1.4" height="1.4" fill="#e0a020" opacity="0.85"/>
<rect x="247.9" y="99.8" width="1.4" height="1.4" fill="#70c040" opacity="0.85"/>
<rect x="253.5" y="96.8" width="1.4" height="1.4" fill="#50c090" opacity="0.85"/>
<rect x="251.4" y="98.3" width="1.4" height="1.4" fill="#d8c020" opacity="0.85"/>
<rect x="251.1" y="96.4" width="1.4" height="1.4" fill="#38b838" opacity="0.85"/>
<rect x="248.8" y="95.8" width="1.4" height="1.4" fill="#b8c830" opacity="0.85"/>
<rect x="251.3" y="95.1" width="1.4" height="1.4" fill="#38b838" opacity="0.85"/>
<rect x="255.1" y="92.4" width="1.4" height="1.4" fill="#50c090" opacity="0.85"/>
<rect x="252.7" y="96.2" width="1.4" height="1.4" fill="#70c040" opacity="0.85"/>
<rect x="252.0" y="99.0" width="1.4" height="1.4" fill="#38b838" opacity="0.85"/>
<rect x="253.2" y="93.8" width="1.4" height="1.4" fill="#b8c830" opacity="0.85"/>
<rect x="251.8" y="94.5" width="1.4" height="1.4" fill="#38b838" opacity="0.85"/>
<rect x="251.7" y="95.3" width="1.4" height="1.4" fill="#d8c020" opacity="0.85"/>
<rect x="253.3" y="93.3" width="1.2" height="1.2" fill="#2a2ab0" opacity="0.85"/>
<rect x="256.9" y="93.5" width="1.2" height="1.2" fill="#3333b8" opacity="0.85"/>
<rect x="255.7" y="93.4" width="1.2" height="1.2" fill="#1c1c90" opacity="0.85"/>
<rect x="251.4" y="91.6" width="1.2" height="1.2" fill="#3333b8" opacity="0.85"/>
<rect x="259.8" y="94.0" width="1.2" height="1.2" fill="#3333b8" opacity="0.85"/>
<rect x="256.8" y="91.5" width="1.2" height="1.2" fill="#2a2ab0" opacity="0.85"/>
<rect x="259.8" y="88.3" width="1.2" height="1.2" fill="#1c1c90" opacity="0.85"/>
<rect x="254.7" y="94.2" width="1.2" height="1.2" fill="#24249c" opacity="0.85"/>
<rect x="258.7" y="90.4" width="1.2" height="1.2" fill="#24249c" opacity="0.85"/>
<rect x="251.5" y="96.2" width="1.2" height="1.2" fill="#3333b8" opacity="0.85"/>
<rect x="257.2" y="90.9" width="1.2" height="1.2" fill="#2a2ab0" opacity="0.85"/>
<rect x="257.5" y="94.2" width="1.2" height="1.2" fill="#2a2ab0" opacity="0.85"/>
<rect x="249.2" y="96.0" width="1.2" height="1.2" fill="#24249c" opacity="0.85"/>
<rect x="258.7" y="88.5" width="1.2" height="1.2" fill="#24249c" opacity="0.85"/>
<rect x="258.9" y="89.0" width="1.2" height="1.2" fill="#2a2ab0" opacity="0.85"/>
<rect x="260.7" y="92.7" width="1.2" height="1.2" fill="#1c1c90" opacity="0.85"/>
<rect x="263.9" y="90.3" width="1.2" height="1.2" fill="#3333b8" opacity="0.85"/>
<rect x="257.3" y="94.5" width="1.2" height="1.2" fill="#2a2ab0" opacity="0.85"/>
<rect x="254.8" y="91.7" width="1.2" height="1.2" fill="#24249c" opacity="0.85"/>
<rect x="255.8" y="92.7" width="1.2" height="1.2" fill="#3333b8" opacity="0.85"/>
<rect x="253.7" y="94.1" width="1.2" height="1.2" fill="#1c1c90" opacity="0.85"/>
<rect x="258.7" y="92.4" width="1.2" height="1.2" fill="#1c1c90" opacity="0.85"/>
<rect x="262.3" y="91.1" width="1.2" height="1.2" fill="#3333b8" opacity="0.85"/>
<rect x="260.9" y="90.9" width="1.2" height="1.2" fill="#1c1c90" opacity="0.85"/>
<rect x="258.8" y="88.8" width="1.2" height="1.2" fill="#3333b8" opacity="0.85"/>
<rect x="257.6" y="92.2" width="1.2" height="1.2" fill="#3333b8" opacity="0.85"/>
<rect x="255.2" y="91.8" width="1.2" height="1.2" fill="#24249c" opacity="0.85"/>
<rect x="255.7" y="91.5" width="1.2" height="1.2" fill="#3333b8" opacity="0.85"/>
<rect x="249.9" y="92.8" width="1.2" height="1.2" fill="#2a2ab0" opacity="0.85"/>
<rect x="255.1" y="92.0" width="1.2" height="1.2" fill="#1c1c90" opacity="0.85"/>
<rect x="253.6" y="92.9" width="1.2" height="1.2" fill="#3333b8" opacity="0.85"/>
<rect x="259.4" y="91.7" width="1.2" height="1.2" fill="#3333b8" opacity="0.85"/>
<rect x="255.9" y="95.3" width="1.2" height="1.2" fill="#3333b8" opacity="0.85"/>
<rect x="260.4" y="93.7" width="1.2" height="1.2" fill="#2a2ab0" opacity="0.85"/>
<rect x="260.5" y="91.4" width="1.2" height="1.2" fill="#2a2ab0" opacity="0.85"/>
<rect x="256.9" y="94.6" width="1.2" height="1.2" fill="#2a2ab0" opacity="0.85"/>
<rect x="255.2" y="92.7" width="1.2" height="1.2" fill="#2a2ab0" opacity="0.85"/>
<rect x="258.3" y="93.1" width="1.2" height="1.2" fill="#3333b8" opacity="0.85"/>
<rect x="256.4" y="94.5" width="1.2" height="1.2" fill="#3333b8" opacity="0.85"/>
<rect x="256.7" y="94.0" width="1.2" height="1.2" fill="#2a2ab0" opacity="0.85"/>
<rect x="260.6" y="93.2" width="1.2" height="1.2" fill="#1c1c90" opacity="0.85"/>
<rect x="258.9" y="90.1" width="1.2" height="1.2" fill="#3333b8" opacity="0.85"/>
<rect x="252.7" y="92.2" width="1.2" height="1.2" fill="#3333b8" opacity="0.85"/>
<rect x="259.0" y="95.0" width="1.2" height="1.2" fill="#3333b8" opacity="0.85"/>
<rect x="253.2" y="93.8" width="1.2" height="1.2" fill="#2a2ab0" opacity="0.85"/>
<rect x="254.1" y="91.8" width="1.2" height="1.2" fill="#24249c" opacity="0.85"/>
<rect x="256.3" y="94.0" width="1.2" height="1.2" fill="#2a2ab0" opacity="0.85"/>
<rect x="258.0" y="94.6" width="1.2" height="1.2" fill="#24249c" opacity="0.85"/>
<rect x="254.2" y="94.7" width="1.2" height="1.2" fill="#3333b8" opacity="0.85"/>
<rect x="260.0" y="92.2" width="1.2" height="1.2" fill="#3333b8" opacity="0.85"/>
<rect x="258.3" y="91.3" width="1.2" height="1.2" fill="#24249c" opacity="0.85"/>
<rect x="253.4" y="92.5" width="1.2" height="1.2" fill="#1c1c90" opacity="0.85"/>
<rect x="255.9" y="98.1" width="1.2" height="1.2" fill="#2a2ab0" opacity="0.85"/>
<rect x="256.0" y="95.8" width="1.2" height="1.2" fill="#2a2ab0" opacity="0.85"/>
<rect x="257.7" y="93.0" width="1.2" height="1.2" fill="#24249c" opacity="0.85"/>
<rect x="258.9" y="74.4" width="1.1" height="1.1" fill="#a8a8e8" opacity="0.85"/>
<rect x="259.9" y="97.7" width="1.1" height="1.1" fill="#6060d2" opacity="0.85"/>
<rect x="259.3" y="77.5" width="1.1" height="1.1" fill="#a8a8e8" opacity="0.85"/>
<rect x="253.4" y="88.1" width="1.1" height="1.1" fill="#a8a8e8" opacity="0.85"/>
<rect x="257.0" y="66.3" width="1.1" height="1.1" fill="#3434b8" opacity="0.85"/>
<rect x="245.9" y="107.2" width="1.1" height="1.1" fill="#9090e2" opacity="0.85"/>
<rect x="255.1" y="89.6" width="1.1" height="1.1" fill="#4a4ac8" opacity="0.85"/>
<rect x="252.3" y="81.8" width="1.1" height="1.1" fill="#7a7adc" opacity="0.85"/>
<rect x="262.7" y="88.5" width="1.1" height="1.1" fill="#a8a8e8" opacity="0.85"/>
<rect x="266.7" y="94.9" width="1.1" height="1.1" fill="#a8a8e8" opacity="0.85"/>
<rect x="251.0" y="82.8" width="1.1" height="1.1" fill="#3a3aa8" opacity="0.85"/>
<rect x="263.5" y="74.4" width="1.1" height="1.1" fill="#3434b8" opacity="0.85"/>
<rect x="260.5" y="89.7" width="1.1" height="1.1" fill="#a8a8e8" opacity="0.85"/>
<rect x="249.1" y="93.7" width="1.1" height="1.1" fill="#4a4ac8" opacity="0.85"/>
<rect x="259.5" y="70.4" width="1.1" height="1.1" fill="#a8a8e8" opacity="0.85"/>
<rect x="258.6" y="91.5" width="1.1" height="1.1" fill="#a8a8e8" opacity="0.85"/>
<rect x="260.4" y="72.4" width="1.1" height="1.1" fill="#4a4ac8" opacity="0.85"/>
<rect x="252.5" y="94.3" width="1.1" height="1.1" fill="#3434b8" opacity="0.85"/>
<rect x="263.9" y="77.8" width="1.1" height="1.1" fill="#7a7adc" opacity="0.85"/>
<rect x="261.1" y="64.4" width="1.1" height="1.1" fill="#9090e2" opacity="0.85"/>
<rect x="257.2" y="83.9" width="1.1" height="1.1" fill="#a8a8e8" opacity="0.85"/>
<rect x="255.7" y="68.6" width="1.1" height="1.1" fill="#7a7adc" opacity="0.85"/>
<rect x="245.4" y="65.0" width="1.1" height="1.1" fill="#3a3aa8" opacity="0.85"/>
<rect x="256.3" y="72.4" width="1.1" height="1.1" fill="#3434b8" opacity="0.85"/>
<rect x="263.5" y="77.3" width="1.1" height="1.1" fill="#3a3aa8" opacity="0.85"/>
<rect x="255.4" y="89.6" width="1.1" height="1.1" fill="#4a4ac8" opacity="0.85"/>
<rect x="262.4" y="78.9" width="1.1" height="1.1" fill="#3434b8" opacity="0.85"/>
<rect x="250.7" y="86.1" width="1.1" height="1.1" fill="#3a3aa8" opacity="0.85"/>
<rect x="269.0" y="99.7" width="1.1" height="1.1" fill="#4a4ac8" opacity="0.85"/>
<rect x="256.8" y="81.2" width="1.1" height="1.1" fill="#4a4ac8" opacity="0.85"/>
<rect x="260.6" y="93.7" width="1.1" height="1.1" fill="#9090e2" opacity="0.85"/>
<rect x="265.6" y="86.6" width="1.1" height="1.1" fill="#6060d2" opacity="0.85"/>
<rect x="260.5" y="73.0" width="1.1" height="1.1" fill="#6060d2" opacity="0.85"/>
<rect x="253.7" y="72.3" width="1.1" height="1.1" fill="#9090e2" opacity="0.85"/>
<rect x="254.4" y="81.8" width="1.1" height="1.1" fill="#c0c0ee" opacity="0.85"/>
<rect x="255.8" y="90.4" width="1.1" height="1.1" fill="#6060d2" opacity="0.85"/>
<rect x="266.5" y="83.4" width="1.1" height="1.1" fill="#9090e2" opacity="0.85"/>
<rect x="247.2" y="106.5" width="1.1" height="1.1" fill="#9090e2" opacity="0.85"/>
<rect x="253.8" y="86.8" width="1.1" height="1.1" fill="#3a3aa8" opacity="0.85"/>
<rect x="261.8" y="77.2" width="1.1" height="1.1" fill="#3434b8" opacity="0.85"/>
<rect x="255.8" y="79.0" width="1.1" height="1.1" fill="#3434b8" opacity="0.85"/>
<rect x="261.7" y="76.5" width="1.1" height="1.1" fill="#a8a8e8" opacity="0.85"/>
<rect x="252.9" y="94.7" width="1.1" height="1.1" fill="#6060d2" opacity="0.85"/>
<rect x="248.6" y="89.5" width="1.1" height="1.1" fill="#3a3aa8" opacity="0.85"/>
<rect x="259.2" y="78.9" width="1.1" height="1.1" fill="#3a3aa8" opacity="0.85"/>
<rect x="253.7" y="77.7" width="1.1" height="1.1" fill="#3434b8" opacity="0.85"/>
<rect x="252.8" y="80.2" width="1.1" height="1.1" fill="#3434b8" opacity="0.85"/>
<rect x="263.3" y="77.9" width="1.1" height="1.1" fill="#4a4ac8" opacity="0.85"/>
<rect x="269.7" y="67.6" width="1.1" height="1.1" fill="#6060d2" opacity="0.85"/>
<rect x="254.1" y="85.9" width="1.1" height="1.1" fill="#c0c0ee" opacity="0.85"/>
<rect x="258.2" y="88.2" width="1.1" height="1.1" fill="#3a3aa8" opacity="0.85"/>
<rect x="267.0" y="64.8" width="1.1" height="1.1" fill="#6060d2" opacity="0.85"/>
<rect x="246.4" y="96.1" width="1.1" height="1.1" fill="#3a3aa8" opacity="0.85"/>
<rect x="258.6" y="91.4" width="1.1" height="1.1" fill="#c0c0ee" opacity="0.85"/>
<rect x="260.2" y="80.5" width="1.1" height="1.1" fill="#7a7adc" opacity="0.85"/>
<rect x="257.6" y="64.1" width="1.1" height="1.1" fill="#4a4ac8" opacity="0.85"/>
<rect x="268.0" y="90.0" width="1.1" height="1.1" fill="#a8a8e8" opacity="0.85"/>
<rect x="254.7" y="76.0" width="1.1" height="1.1" fill="#a8a8e8" opacity="0.85"/>
<rect x="245.2" y="94.3" width="1.1" height="1.1" fill="#7a7adc" opacity="0.85"/>
<rect x="253.5" y="100.2" width="1.1" height="1.1" fill="#9090e2" opacity="0.85"/>
<rect x="264.4" y="81.2" width="1.1" height="1.1" fill="#6060d2" opacity="0.85"/>
<rect x="254.2" y="80.1" width="1.1" height="1.1" fill="#3434b8" opacity="0.85"/>
<rect x="267.9" y="89.0" width="1.1" height="1.1" fill="#7a7adc" opacity="0.85"/>
<rect x="255.6" y="94.8" width="1.1" height="1.1" fill="#6060d2" opacity="0.85"/>
<rect x="262.1" y="80.7" width="1.1" height="1.1" fill="#a8a8e8" opacity="0.85"/>
<rect x="260.5" y="84.1" width="1.1" height="1.1" fill="#3a3aa8" opacity="0.85"/>
<rect x="259.4" y="73.1" width="1.1" height="1.1" fill="#a8a8e8" opacity="0.85"/>
<rect x="256.4" y="83.5" width="1.1" height="1.1" fill="#3a3aa8" opacity="0.85"/>
<rect x="255.2" y="87.6" width="1.1" height="1.1" fill="#c0c0ee" opacity="0.85"/>
<rect x="259.1" y="82.8" width="1.1" height="1.1" fill="#a8a8e8" opacity="0.85"/>
<rect x="269.0" y="71.1" width="1.1" height="1.1" fill="#a8a8e8" opacity="0.85"/>
<rect x="261.0" y="84.6" width="1.1" height="1.1" fill="#3434b8" opacity="0.85"/>
<rect x="263.6" y="78.8" width="1.1" height="1.1" fill="#a8a8e8" opacity="0.85"/>
<rect x="260.1" y="80.2" width="1.1" height="1.1" fill="#3a3aa8" opacity="0.85"/>
<rect x="252.9" y="82.6" width="1.1" height="1.1" fill="#a8a8e8" opacity="0.85"/>
<rect x="267.9" y="74.9" width="1.1" height="1.1" fill="#7a7adc" opacity="0.85"/>
<rect x="262.5" y="75.2" width="1.1" height="1.1" fill="#3434b8" opacity="0.85"/>
<rect x="256.5" y="77.1" width="1.1" height="1.1" fill="#7a7adc" opacity="0.85"/>
<rect x="258.4" y="95.7" width="1.1" height="1.1" fill="#3a3aa8" opacity="0.85"/>
<rect x="255.7" y="77.5" width="1.1" height="1.1" fill="#3434b8" opacity="0.85"/>
<rect x="263.8" y="89.9" width="1.1" height="1.1" fill="#6060d2" opacity="0.85"/>
<rect x="264.7" y="97.5" width="1.1" height="1.1" fill="#6060d2" opacity="0.85"/>
<rect x="273.6" y="78.4" width="1.1" height="1.1" fill="#9090e2" opacity="0.85"/>
<rect x="256.8" y="85.9" width="1.1" height="1.1" fill="#c0c0ee" opacity="0.85"/>
<rect x="258.3" y="84.4" width="1.1" height="1.1" fill="#9090e2" opacity="0.85"/>
<rect x="253.7" y="80.6" width="1.1" height="1.1" fill="#4a4ac8" opacity="0.85"/>
<rect x="256.3" y="70.0" width="1.1" height="1.1" fill="#9090e2" opacity="0.85"/>
<rect x="260.6" y="85.0" width="1.1" height="1.1" fill="#a8a8e8" opacity="0.85"/>
<rect x="254.8" y="83.7" width="1.1" height="1.1" fill="#6060d2" opacity="0.85"/>
<rect x="257.2" y="76.5" width="1.1" height="1.1" fill="#3434b8" opacity="0.85"/>
<rect x="255.2" y="90.1" width="1.1" height="1.1" fill="#4a4ac8" opacity="0.85"/>
<rect x="267.9" y="84.5" width="1.1" height="1.1" fill="#7a7adc" opacity="0.85"/>
<rect x="261.7" y="90.5" width="1.1" height="1.1" fill="#c0c0ee" opacity="0.85"/>
<rect x="254.7" y="85.9" width="1.1" height="1.1" fill="#4a4ac8" opacity="0.85"/>
<rect x="259.3" y="83.1" width="1.1" height="1.1" fill="#a8a8e8" opacity="0.85"/>
<rect x="270.5" y="75.6" width="1.1" height="1.1" fill="#9090e2" opacity="0.85"/>
<rect x="264.8" y="87.3" width="1.1" height="1.1" fill="#7a7adc" opacity="0.85"/>
<rect x="265.4" y="73.1" width="1.1" height="1.1" fill="#6060d2" opacity="0.85"/>
<rect x="262.0" y="87.6" width="1.1" height="1.1" fill="#4a4ac8" opacity="0.85"/>
<rect x="260.3" y="81.4" width="1.1" height="1.1" fill="#9090e2" opacity="0.85"/>
<rect x="261.8" y="83.2" width="1.1" height="1.1" fill="#a8a8e8" opacity="0.85"/>
<rect x="267.5" y="72.6" width="1.1" height="1.1" fill="#a8a8e8" opacity="0.85"/>
<rect x="263.8" y="83.2" width="1.1" height="1.1" fill="#7a7adc" opacity="0.85"/>
<rect x="256.3" y="66.6" width="1.1" height="1.1" fill="#a8a8e8" opacity="0.85"/>
<rect x="254.0" y="65.8" width="1.1" height="1.1" fill="#c0c0ee" opacity="0.85"/>
<rect x="263.1" y="76.5" width="1.1" height="1.1" fill="#a8a8e8" opacity="0.85"/>
<rect x="263.4" y="68.3" width="1.1" height="1.1" fill="#3434b8" opacity="0.85"/>
<rect x="252.8" y="82.7" width="1.1" height="1.1" fill="#a8a8e8" opacity="0.85"/>
<rect x="260.2" y="91.5" width="1.1" height="1.1" fill="#a8a8e8" opacity="0.85"/>
<rect x="253.8" y="80.8" width="1.1" height="1.1" fill="#3a3aa8" opacity="0.85"/>
<rect x="255.2" y="74.4" width="1.1" height="1.1" fill="#a8a8e8" opacity="0.85"/>
<rect x="254.9" y="82.9" width="1.1" height="1.1" fill="#7a7adc" opacity="0.85"/>
<rect x="270.6" y="68.7" width="1.1" height="1.1" fill="#7a7adc" opacity="0.85"/>
<rect x="249.0" y="78.9" width="1.1" height="1.1" fill="#a8a8e8" opacity="0.85"/>
<rect x="259.5" y="77.8" width="1.1" height="1.1" fill="#6060d2" opacity="0.85"/>
<rect x="262.5" y="78.0" width="1.1" height="1.1" fill="#6060d2" opacity="0.85"/>
<rect x="263.2" y="84.1" width="1.1" height="1.1" fill="#7a7adc" opacity="0.85"/>
<rect x="261.6" y="73.5" width="1.1" height="1.1" fill="#3434b8" opacity="0.85"/>
<rect x="254.8" y="82.6" width="1.1" height="1.1" fill="#3a3aa8" opacity="0.85"/>
<rect x="253.7" y="72.6" width="1.1" height="1.1" fill="#c0c0ee" opacity="0.85"/>
<rect x="253.8" y="80.1" width="1.1" height="1.1" fill="#3a3aa8" opacity="0.85"/>
<rect x="258.9" y="92.4" width="1.1" height="1.1" fill="#c0c0ee" opacity="0.85"/>
<rect x="258.7" y="80.3" width="1.1" height="1.1" fill="#9090e2" opacity="0.85"/>
<rect x="251.8" y="70.5" width="1.1" height="1.1" fill="#6060d2" opacity="0.85"/>
<rect x="260.0" y="81.0" width="1.1" height="1.1" fill="#4a4ac8" opacity="0.85"/>
<rect x="254.0" y="71.5" width="1.1" height="1.1" fill="#6060d2" opacity="0.85"/>
<rect x="261.3" y="74.5" width="1.1" height="1.1" fill="#9090e2" opacity="0.85"/>
<rect x="268.1" y="70.6" width="1.1" height="1.1" fill="#9090e2" opacity="0.85"/>
<rect x="272.2" y="78.8" width="1.1" height="1.1" fill="#9090e2" opacity="0.85"/>
<rect x="256.0" y="79.4" width="1.1" height="1.1" fill="#a8a8e8" opacity="0.85"/>
<rect x="252.3" y="81.3" width="1.1" height="1.1" fill="#4a4ac8" opacity="0.85"/>
<rect x="247.6" y="77.3" width="1.1" height="1.1" fill="#7a7adc" opacity="0.85"/>
<rect x="260.8" y="81.4" width="1.1" height="1.1" fill="#4a4ac8" opacity="0.85"/>
<rect x="258.7" y="71.3" width="1.1" height="1.1" fill="#6060d2" opacity="0.85"/>
<rect x="257.8" y="67.6" width="1.1" height="1.1" fill="#9090e2" opacity="0.85"/>
<rect x="247.3" y="78.2" width="1.1" height="1.1" fill="#a8a8e8" opacity="0.85"/>
<rect x="252.2" y="85.0" width="1.1" height="1.1" fill="#3a3aa8" opacity="0.85"/>
<rect x="264.7" y="68.8" width="1.1" height="1.1" fill="#a8a8e8" opacity="0.85"/>
<rect x="259.1" y="89.7" width="1.1" height="1.1" fill="#c0c0ee" opacity="0.85"/>
<rect x="258.2" y="75.8" width="1.1" height="1.1" fill="#4a4ac8" opacity="0.85"/>
<rect x="256.8" y="79.4" width="1.1" height="1.1" fill="#3a3aa8" opacity="0.85"/>
<rect x="247.3" y="81.7" width="1.1" height="1.1" fill="#a8a8e8" opacity="0.85"/>
<rect x="265.6" y="82.7" width="1.1" height="1.1" fill="#6060d2" opacity="0.85"/>
<rect x="260.0" y="68.1" width="1.1" height="1.1" fill="#9090e2" opacity="0.85"/>
<rect x="255.7" y="85.7" width="1.1" height="1.1" fill="#9090e2" opacity="0.85"/>
<rect x="262.4" y="73.3" width="1.1" height="1.1" fill="#3434b8" opacity="0.85"/>
<rect x="259.3" y="85.2" width="1.1" height="1.1" fill="#6060d2" opacity="0.85"/>
<rect x="261.0" y="82.4" width="1.1" height="1.1" fill="#9090e2" opacity="0.85"/>
<rect x="249.3" y="81.0" width="1.1" height="1.1" fill="#7a7adc" opacity="0.85"/>
<rect x="262.9" y="80.7" width="1.1" height="1.1" fill="#3434b8" opacity="0.85"/>
<rect x="255.5" y="88.7" width="1.1" height="1.1" fill="#7a7adc" opacity="0.85"/>
<rect x="258.3" y="72.4" width="1.1" height="1.1" fill="#3434b8" opacity="0.85"/>
<rect x="268.6" y="88.3" width="1.1" height="1.1" fill="#c0c0ee" opacity="0.85"/>
<rect x="266.1" y="74.9" width="1.1" height="1.1" fill="#3a3aa8" opacity="0.85"/>
<rect x="265.7" y="90.0" width="1.1" height="1.1" fill="#7a7adc" opacity="0.85"/>
<rect x="252.0" y="92.5" width="1.1" height="1.1" fill="#9090e2" opacity="0.85"/>
<rect x="267.6" y="76.1" width="1.1" height="1.1" fill="#4a4ac8" opacity="0.85"/>
<rect x="252.8" y="86.4" width="1.1" height="1.1" fill="#7a7adc" opacity="0.85"/>
<rect x="248.0" y="75.5" width="1.1" height="1.1" fill="#7a7adc" opacity="0.85"/>
<rect x="263.0" y="75.7" width="1.1" height="1.1" fill="#3434b8" opacity="0.85"/>
<rect x="260.6" y="84.4" width="1.1" height="1.1" fill="#6060d2" opacity="0.85"/>
<rect x="261.9" y="74.3" width="1.1" height="1.1" fill="#3434b8" opacity="0.85"/>
<rect x="268.1" y="78.1" width="1.1" height="1.1" fill="#4a4ac8" opacity="0.85"/>
<rect x="258.4" y="84.1" width="1.1" height="1.1" fill="#4a4ac8" opacity="0.85"/>
<rect x="263.2" y="85.7" width="1.1" height="1.1" fill="#a8a8e8" opacity="0.85"/>
<rect x="260.3" y="84.0" width="1.1" height="1.1" fill="#6060d2" opacity="0.85"/>
<rect x="259.2" y="79.0" width="1.1" height="1.1" fill="#3434b8" opacity="0.85"/>
<rect x="261.7" y="66.2" width="1.1" height="1.1" fill="#7a7adc" opacity="0.85"/>
<rect x="266.2" y="70.0" width="1.1" height="1.1" fill="#9090e2" opacity="0.85"/>
<rect x="260.4" y="69.3" width="1.1" height="1.1" fill="#3434b8" opacity="0.85"/>
<rect x="264.7" y="73.8" width="1.1" height="1.1" fill="#a8a8e8" opacity="0.85"/>
<rect x="258.7" y="85.3" width="1.1" height="1.1" fill="#3434b8" opacity="0.85"/>
<rect x="258.0" y="81.0" width="1.1" height="1.1" fill="#7a7adc" opacity="0.85"/>
<rect x="257.2" y="68.6" width="1.1" height="1.1" fill="#a8a8e8" opacity="0.85"/>
<rect x="245.2" y="90.7" width="1.1" height="1.1" fill="#a8a8e8" opacity="0.85"/>
<rect x="253.9" y="82.6" width="1.1" height="1.1" fill="#3434b8" opacity="0.85"/>
<rect x="261.7" y="80.7" width="1.1" height="1.1" fill="#3a3aa8" opacity="0.85"/>
<rect x="264.0" y="66.5" width="1.1" height="1.1" fill="#c0c0ee" opacity="0.85"/>
<rect x="255.4" y="75.2" width="1.1" height="1.1" fill="#a8a8e8" opacity="0.85"/>
<rect x="267.3" y="77.4" width="1.1" height="1.1" fill="#6060d2" opacity="0.85"/>
<rect x="250.4" y="66.5" width="1.1" height="1.1" fill="#3434b8" opacity="0.85"/>
<rect x="269.2" y="75.3" width="1.1" height="1.1" fill="#c0c0ee" opacity="0.85"/>
<rect x="251.9" y="71.2" width="1.1" height="1.1" fill="#3434b8" opacity="0.85"/>
<rect x="261.1" y="83.3" width="1.1" height="1.1" fill="#4a4ac8" opacity="0.85"/>
<rect x="254.8" y="75.5" width="1.1" height="1.1" fill="#a8a8e8" opacity="0.85"/>
<rect x="262.0" y="88.5" width="1.1" height="1.1" fill="#3a3aa8" opacity="0.85"/>
<rect x="263.7" y="92.7" width="1.1" height="1.1" fill="#c0c0ee" opacity="0.85"/>
<rect x="260.2" y="80.3" width="1.1" height="1.1" fill="#9090e2" opacity="0.85"/>
<rect x="252.3" y="89.7" width="1.1" height="1.1" fill="#3a3aa8" opacity="0.85"/>
<rect x="251.8" y="72.4" width="1.1" height="1.1" fill="#3434b8" opacity="0.85"/>
<rect x="255.1" y="61.5" width="1.1" height="1.1" fill="#3434b8" opacity="0.85"/>
<rect x="256.2" y="89.7" width="1.1" height="1.1" fill="#a8a8e8" opacity="0.85"/>
<rect x="263.6" y="77.3" width="1.1" height="1.1" fill="#a8a8e8" opacity="0.85"/>
<rect x="256.6" y="82.6" width="1.1" height="1.1" fill="#3434b8" opacity="0.85"/>
<rect x="254.8" y="81.0" width="1.1" height="1.1" fill="#c0c0ee" opacity="0.85"/>
<rect x="258.4" y="101.8" width="1.1" height="1.1" fill="#a8a8e8" opacity="0.85"/>
<rect x="259.9" y="78.3" width="1.1" height="1.1" fill="#6060d2" opacity="0.85"/>
<rect x="258.6" y="85.3" width="1.1" height="1.1" fill="#4a4ac8" opacity="0.85"/>
<rect x="258.0" y="80.0" width="1.1" height="1.1" fill="#3434b8" opacity="0.85"/>
<rect x="251.2" y="68.7" width="1.1" height="1.1" fill="#6060d2" opacity="0.85"/>
<rect x="253.1" y="76.4" width="1.1" height="1.1" fill="#7a7adc" opacity="0.85"/>
<rect x="266.2" y="84.7" width="1.1" height="1.1" fill="#6060d2" opacity="0.85"/>
<rect x="255.7" y="88.4" width="1.1" height="1.1" fill="#4a4ac8" opacity="0.85"/>
<rect x="262.5" y="86.1" width="1.1" height="1.1" fill="#a8a8e8" opacity="0.85"/>
<rect x="247.1" y="85.2" width="1.1" height="1.1" fill="#a8a8e8" opacity="0.85"/>
<rect x="257.6" y="75.4" width="1.1" height="1.1" fill="#c0c0ee" opacity="0.85"/>
<rect x="263.8" y="84.1" width="1.1" height="1.1" fill="#a8a8e8" opacity="0.85"/>
<rect x="254.5" y="86.4" width="1.1" height="1.1" fill="#6060d2" opacity="0.85"/>
<rect x="261.1" y="79.5" width="1.1" height="1.1" fill="#a8a8e8" opacity="0.85"/>
<rect x="263.2" y="85.6" width="1.1" height="1.1" fill="#7a7adc" opacity="0.85"/>
<rect x="261.0" y="61.7" width="1.1" height="1.1" fill="#9090e2" opacity="0.85"/>
<rect x="250.7" y="62.1" width="1.1" height="1.1" fill="#3a3aa8" opacity="0.85"/>
<rect x="259.6" y="68.4" width="1.1" height="1.1" fill="#3434b8" opacity="0.85"/>
<rect x="256.9" y="78.4" width="1.1" height="1.1" fill="#9090e2" opacity="0.85"/>
<rect x="250.0" y="83.1" width="1.1" height="1.1" fill="#3a3aa8" opacity="0.85"/>
<rect x="264.9" y="85.0" width="1.1" height="1.1" fill="#9090e2" opacity="0.85"/>
<rect x="259.0" y="70.5" width="1.1" height="1.1" fill="#a8a8e8" opacity="0.85"/>
<rect x="253.5" y="83.1" width="1.1" height="1.1" fill="#9090e2" opacity="0.85"/>
<rect x="266.0" y="92.1" width="1.1" height="1.1" fill="#6060d2" opacity="0.85"/>
<rect x="260.6" y="74.9" width="1.1" height="1.1" fill="#9090e2" opacity="0.85"/>
<rect x="251.8" y="82.3" width="1.1" height="1.1" fill="#3434b8" opacity="0.85"/>
<rect x="265.6" y="70.8" width="1.1" height="1.1" fill="#3a3aa8" opacity="0.85"/>
<rect x="262.0" y="89.0" width="1.1" height="1.1" fill="#4a4ac8" opacity="0.85"/>
<rect x="259.7" y="89.7" width="1.1" height="1.1" fill="#a8a8e8" opacity="0.85"/>
<rect x="254.2" y="87.0" width="1.1" height="1.1" fill="#6060d2" opacity="0.85"/>
<rect x="262.0" y="76.7" width="1.1" height="1.1" fill="#7a7adc" opacity="0.85"/>
<rect x="256.0" y="70.8" width="1.1" height="1.1" fill="#c0c0ee" opacity="0.85"/>
<rect x="269.3" y="69.6" width="1.1" height="1.1" fill="#4a4ac8" opacity="0.85"/>
<rect x="261.1" y="80.8" width="1.1" height="1.1" fill="#3434b8" opacity="0.85"/>
<rect x="256.0" y="85.9" width="1.1" height="1.1" fill="#6060d2" opacity="0.85"/>
<rect x="256.2" y="90.5" width="1.1" height="1.1" fill="#4a4ac8" opacity="0.85"/>
<rect x="266.4" y="80.4" width="1.1" height="1.1" fill="#3434b8" opacity="0.85"/>
<rect x="265.0" y="73.7" width="1.1" height="1.1" fill="#7a7adc" opacity="0.85"/>
<rect x="256.5" y="82.5" width="1.1" height="1.1" fill="#6060d2" opacity="0.85"/>
<rect x="259.0" y="83.0" width="1.1" height="1.1" fill="#9090e2" opacity="0.85"/>
<rect x="258.7" y="96.4" width="1.1" height="1.1" fill="#a8a8e8" opacity="0.85"/>
<rect x="252.3" y="91.6" width="1.1" height="1.1" fill="#6060d2" opacity="0.85"/>
<rect x="255.7" y="79.1" width="1.1" height="1.1" fill="#6060d2" opacity="0.85"/>
<rect x="261.5" y="66.7" width="1.1" height="1.1" fill="#6060d2" opacity="0.85"/>
<rect x="268.4" y="69.4" width="1.1" height="1.1" fill="#3434b8" opacity="0.85"/>
<rect x="259.7" y="84.5" width="1.1" height="1.1" fill="#a8a8e8" opacity="0.85"/>
<rect x="259.4" y="69.3" width="1.1" height="1.1" fill="#7a7adc" opacity="0.85"/>
<rect x="255.6" y="78.5" width="1.1" height="1.1" fill="#3a3aa8" opacity="0.85"/>
<rect x="256.7" y="79.0" width="1.1" height="1.1" fill="#3a3aa8" opacity="0.85"/>
<rect x="264.2" y="80.8" width="1.1" height="1.1" fill="#7a7adc" opacity="0.85"/>
<rect x="262.2" y="69.2" width="1.1" height="1.1" fill="#a8a8e8" opacity="0.85"/>
<rect x="263.7" y="79.7" width="1.1" height="1.1" fill="#c0c0ee" opacity="0.85"/>
<rect x="252.0" y="80.7" width="1.1" height="1.1" fill="#3a3aa8" opacity="0.85"/>
<rect x="255.6" y="69.9" width="1.1" height="1.1" fill="#7a7adc" opacity="0.85"/>
<rect x="255.1" y="71.2" width="1.1" height="1.1" fill="#a8a8e8" opacity="0.85"/>
<rect x="266.4" y="67.3" width="1.1" height="1.1" fill="#a8a8e8" opacity="0.85"/>
<rect x="266.2" y="68.1" width="1.1" height="1.1" fill="#7a7adc" opacity="0.85"/>
<rect x="261.7" y="60.5" width="1.1" height="1.1" fill="#c0c0ee" opacity="0.85"/>
<rect x="263.1" y="68.2" width="1.1" height="1.1" fill="#a8a8e8" opacity="0.85"/>
<rect x="270.7" y="69.3" width="1.1" height="1.1" fill="#6060d2" opacity="0.85"/>
<rect x="267.2" y="63.4" width="1.1" height="1.1" fill="#7a7adc" opacity="0.85"/>
<rect x="258.5" y="69.4" width="1.1" height="1.1" fill="#7a7adc" opacity="0.85"/>
<rect x="267.6" y="67.2" width="1.1" height="1.1" fill="#3a3aa8" opacity="0.85"/>
<rect x="264.0" y="67.4" width="1.1" height="1.1" fill="#c0c0ee" opacity="0.85"/>
<rect x="268.1" y="71.8" width="1.1" height="1.1" fill="#7a7adc" opacity="0.85"/>
<rect x="266.5" y="71.9" width="1.1" height="1.1" fill="#3a3aa8" opacity="0.85"/>
<rect x="266.3" y="62.7" width="1.1" height="1.1" fill="#3a3aa8" opacity="0.85"/>
<rect x="270.7" y="60.0" width="1.1" height="1.1" fill="#c0c0ee" opacity="0.85"/>
<rect x="262.4" y="78.7" width="1.1" height="1.1" fill="#c0c0ee" opacity="0.85"/>
<rect x="259.2" y="61.8" width="1.1" height="1.1" fill="#6060d2" opacity="0.85"/>
<rect x="270.6" y="66.9" width="1.1" height="1.1" fill="#c0c0ee" opacity="0.85"/>
<rect x="267.4" y="67.8" width="1.1" height="1.1" fill="#9090e2" opacity="0.85"/>
<rect x="266.4" y="64.6" width="1.1" height="1.1" fill="#a8a8e8" opacity="0.85"/>
<rect x="269.8" y="73.0" width="1.1" height="1.1" fill="#6060d2" opacity="0.85"/>
<rect x="268.0" y="64.7" width="1.1" height="1.1" fill="#9090e2" opacity="0.85"/>
<rect x="273.1" y="62.0" width="1.1" height="1.1" fill="#7a7adc" opacity="0.85"/>
<rect x="264.9" y="61.2" width="1.1" height="1.1" fill="#7a7adc" opacity="0.85"/>
<rect x="272.8" y="61.8" width="1.1" height="1.1" fill="#3a3aa8" opacity="0.85"/>
<rect x="265.9" y="73.1" width="1.1" height="1.1" fill="#6060d2" opacity="0.85"/>
<rect x="277.0" y="65.1" width="1.1" height="1.1" fill="#9090e2" opacity="0.85"/>
<rect x="259.5" y="67.8" width="1.1" height="1.1" fill="#3a3aa8" opacity="0.85"/>
<rect x="276.4" y="66.1" width="1.1" height="1.1" fill="#7a7adc" opacity="0.85"/>
<rect x="270.6" y="66.8" width="1.1" height="1.1" fill="#6060d2" opacity="0.85"/>
<rect x="264.6" y="72.0" width="1.1" height="1.1" fill="#9090e2" opacity="0.85"/>
<rect x="263.2" y="65.7" width="1.1" height="1.1" fill="#9090e2" opacity="0.85"/>
<rect x="267.1" y="72.8" width="1.1" height="1.1" fill="#6060d2" opacity="0.85"/>
<rect x="260.7" y="69.7" width="1.1" height="1.1" fill="#6060d2" opacity="0.85"/>
<rect x="267.1" y="72.2" width="1.1" height="1.1" fill="#7a7adc" opacity="0.85"/>
<rect x="266.8" y="61.8" width="1.1" height="1.1" fill="#c0c0ee" opacity="0.85"/>
<rect x="272.7" y="68.9" width="1.1" height="1.1" fill="#6060d2" opacity="0.85"/>
<rect x="268.5" y="65.8" width="1.1" height="1.1" fill="#a8a8e8" opacity="0.85"/>
<rect x="261.7" y="71.2" width="1.1" height="1.1" fill="#c0c0ee" opacity="0.85"/>
<rect x="260.4" y="67.2" width="1.1" height="1.1" fill="#9090e2" opacity="0.85"/>
<rect x="274.2" y="60.5" width="1.1" height="1.1" fill="#9090e2" opacity="0.85"/>
<rect x="268.8" y="66.5" width="1.1" height="1.1" fill="#6060d2" opacity="0.85"/>
<rect x="261.1" y="91.5" width="1.1" height="1.1" fill="#6060d2" opacity="0.85"/>
<rect x="256.5" y="91.4" width="1.1" height="1.1" fill="#9090e2" opacity="0.85"/>
<rect x="258.5" y="92.6" width="1.1" height="1.1" fill="#6060d2" opacity="0.85"/>
<rect x="273.6" y="90.9" width="1.1" height="1.1" fill="#3434b8" opacity="0.85"/>
<rect x="261.1" y="92.9" width="1.1" height="1.1" fill="#7a7adc" opacity="0.85"/>
<rect x="255.3" y="90.6" width="1.1" height="1.1" fill="#7a7adc" opacity="0.85"/>
<rect x="268.9" y="93.5" width="1.1" height="1.1" fill="#6060d2" opacity="0.85"/>
<rect x="271.3" y="88.8" width="1.1" height="1.1" fill="#3434b8" opacity="0.85"/>
<rect x="270.0" y="89.5" width="1.1" height="1.1" fill="#6060d2" opacity="0.85"/>
<rect x="262.6" y="93.1" width="1.1" height="1.1" fill="#7a7adc" opacity="0.85"/>
<rect x="272.7" y="90.8" width="1.1" height="1.1" fill="#7a7adc" opacity="0.85"/>
<rect x="259.3" y="85.5" width="1.1" height="1.1" fill="#9090e2" opacity="0.85"/>
<rect x="266.7" y="88.6" width="1.1" height="1.1" fill="#6060d2" opacity="0.85"/>
<rect x="270.3" y="92.3" width="1.1" height="1.1" fill="#6060d2" opacity="0.85"/>
<rect x="272.9" y="91.6" width="1.1" height="1.1" fill="#4a4ac8" opacity="0.85"/>
<rect x="254.6" y="92.3" width="1.1" height="1.1" fill="#7a7adc" opacity="0.85"/>
<rect x="259.0" y="89.2" width="1.1" height="1.1" fill="#9090e2" opacity="0.85"/>
<rect x="258.2" y="89.3" width="1.1" height="1.1" fill="#4a4ac8" opacity="0.85"/>
<rect x="255.0" y="90.0" width="1.1" height="1.1" fill="#9090e2" opacity="0.85"/>
<rect x="257.3" y="89.4" width="1.1" height="1.1" fill="#4a4ac8" opacity="0.85"/>
<rect x="257.2" y="92.9" width="1.1" height="1.1" fill="#9090e2" opacity="0.85"/>
<rect x="252.5" y="93.3" width="1.1" height="1.1" fill="#6060d2" opacity="0.85"/>
<rect x="265.6" y="87.5" width="1.1" height="1.1" fill="#3434b8" opacity="0.85"/>
<rect x="260.4" y="91.5" width="1.1" height="1.1" fill="#4a4ac8" opacity="0.85"/>
<rect x="267.4" y="90.8" width="1.1" height="1.1" fill="#6060d2" opacity="0.85"/>
<rect x="255.0" y="88.2" width="1.1" height="1.1" fill="#3434b8" opacity="0.85"/>
<rect x="273.2" y="92.4" width="1.1" height="1.1" fill="#3434b8" opacity="0.85"/>
<rect x="253.8" y="87.5" width="1.1" height="1.1" fill="#7a7adc" opacity="0.85"/>
<rect x="262.5" y="89.6" width="1.1" height="1.1" fill="#7a7adc" opacity="0.85"/>
<rect x="269.5" y="88.0" width="1.1" height="1.1" fill="#7a7adc" opacity="0.85"/>
<rect x="256.6" y="93.0" width="1.1" height="1.1" fill="#9090e2" opacity="0.85"/>
<rect x="237.6" y="88.0" width="1.1" height="1.1" fill="#7a7adc" opacity="0.85"/>
<rect x="272.8" y="92.2" width="1.1" height="1.1" fill="#7a7adc" opacity="0.85"/>
<rect x="258.9" y="91.9" width="1.1" height="1.1" fill="#3434b8" opacity="0.85"/>
<rect x="265.3" y="92.5" width="1.1" height="1.1" fill="#3434b8" opacity="0.85"/>
<rect x="260.1" y="90.1" width="1.1" height="1.1" fill="#9090e2" opacity="0.85"/>
<rect x="259.7" y="90.0" width="1.1" height="1.1" fill="#9090e2" opacity="0.85"/>
<rect x="275.0" y="89.8" width="1.1" height="1.1" fill="#7a7adc" opacity="0.85"/>
<rect x="253.1" y="87.8" width="1.1" height="1.1" fill="#7a7adc" opacity="0.85"/>
<rect x="259.1" y="92.5" width="1.1" height="1.1" fill="#7a7adc" opacity="0.85"/>
<rect x="266.8" y="89.6" width="1.1" height="1.1" fill="#7a7adc" opacity="0.85"/>
<rect x="252.8" y="92.5" width="1.1" height="1.1" fill="#7a7adc" opacity="0.85"/>
<rect x="257.3" y="92.2" width="1.1" height="1.1" fill="#4a4ac8" opacity="0.85"/>
<rect x="257.6" y="89.1" width="1.1" height="1.1" fill="#3434b8" opacity="0.85"/>
<rect x="258.7" y="93.5" width="1.1" height="1.1" fill="#7a7adc" opacity="0.85"/>
<rect x="261.1" y="92.5" width="1.1" height="1.1" fill="#7a7adc" opacity="0.85"/>
<rect x="258.8" y="91.3" width="1.1" height="1.1" fill="#7a7adc" opacity="0.85"/>
<rect x="254.5" y="88.8" width="1.1" height="1.1" fill="#4a4ac8" opacity="0.85"/>
<rect x="265.9" y="92.9" width="1.1" height="1.1" fill="#9090e2" opacity="0.85"/>
<rect x="265.7" y="91.0" width="1.1" height="1.1" fill="#3434b8" opacity="0.85"/>
<rect x="251.7" y="91.2" width="1.1" height="1.1" fill="#4a4ac8" opacity="0.85"/>
<rect x="255.9" y="89.5" width="1.1" height="1.1" fill="#4a4ac8" opacity="0.85"/>
<rect x="263.7" y="89.7" width="1.1" height="1.1" fill="#7a7adc" opacity="0.85"/>
<rect x="261.7" y="91.0" width="1.1" height="1.1" fill="#9090e2" opacity="0.85"/>
<rect x="261.4" y="93.4" width="1.1" height="1.1" fill="#3434b8" opacity="0.85"/>
<rect x="258.9" y="93.1" width="1.1" height="1.1" fill="#6060d2" opacity="0.85"/>
<rect x="266.7" y="90.3" width="1.1" height="1.1" fill="#9090e2" opacity="0.85"/>
<rect x="261.3" y="92.9" width="1.1" height="1.1" fill="#6060d2" opacity="0.85"/>
<rect x="253.9" y="90.7" width="1.1" height="1.1" fill="#7a7adc" opacity="0.85"/>
<rect x="265.1" y="91.5" width="1.1" height="1.1" fill="#7a7adc" opacity="0.85"/>
<rect x="250.3" y="65.4" width="1.0" height="1.0" fill="#c0c0ee" opacity="0.85"/>
<rect x="248.8" y="88.1" width="1.0" height="1.0" fill="#3a3aa8" opacity="0.85"/>
<rect x="249.7" y="60.4" width="1.0" height="1.0" fill="#3a3aa8" opacity="0.85"/>
<rect x="273.1" y="78.4" width="1.0" height="1.0" fill="#a8a8e8" opacity="0.85"/>
<rect x="248.0" y="82.9" width="1.0" height="1.0" fill="#c0c0ee" opacity="0.85"/>
<rect x="271.6" y="75.3" width="1.0" height="1.0" fill="#c0c0ee" opacity="0.85"/>
<rect x="248.0" y="83.3" width="1.0" height="1.0" fill="#a8a8e8" opacity="0.85"/>
<rect x="261.0" y="79.2" width="1.0" height="1.0" fill="#3a3aa8" opacity="0.85"/>
<rect x="281.9" y="88.0" width="1.0" height="1.0" fill="#9090e2" opacity="0.85"/>
<rect x="277.4" y="62.5" width="1.0" height="1.0" fill="#c0c0ee" opacity="0.85"/>
<rect x="258.0" y="76.7" width="1.0" height="1.0" fill="#9090e2" opacity="0.85"/>
<rect x="246.2" y="94.6" width="1.0" height="1.0" fill="#9090e2" opacity="0.85"/>
<rect x="255.9" y="67.0" width="1.0" height="1.0" fill="#3a3aa8" opacity="0.85"/>
<rect x="257.3" y="66.7" width="1.0" height="1.0" fill="#c0c0ee" opacity="0.85"/>
<rect x="276.9" y="78.1" width="1.0" height="1.0" fill="#9090e2" opacity="0.85"/>
<rect x="264.4" y="73.0" width="1.0" height="1.0" fill="#c0c0ee" opacity="0.85"/>
<rect x="247.8" y="68.6" width="1.0" height="1.0" fill="#a8a8e8" opacity="0.85"/>
<rect x="277.2" y="87.5" width="1.0" height="1.0" fill="#3a3aa8" opacity="0.85"/>
<rect x="276.8" y="66.8" width="1.0" height="1.0" fill="#c0c0ee" opacity="0.85"/>
<rect x="253.3" y="59.0" width="1.0" height="1.0" fill="#a8a8e8" opacity="0.85"/>
<rect x="227.5" y="41.5" width="78.0" height="72.0" fill="none" stroke="#444" stroke-width="1.0"/>
<line x1="258.5" y1="41.5" x2="258.5" y2="113.5" stroke="#444" stroke-width="0.9"/>
<line x1="227.5" y1="88.5" x2="305.5" y2="88.5" stroke="#444" stroke-width="0.9"/>
<text font-size="10" transform="translate(229.40,52.00)">17</text>
<text font-size="10" transform="translate(304.20,52.00)" text-anchor="end" textLength="17.0" lengthAdjust="spacingAndGlyphs">14.9</text>
<text font-size="10" transform="translate(229.10,111.80)" textLength="17.0" lengthAdjust="spacingAndGlyphs">54.2</text>
<text font-size="10" transform="translate(303.50,111.80)" text-anchor="end" textLength="16.0" lengthAdjust="spacingAndGlyphs">13.9</text>
<text font-size="4.8" transform="translate(217.50,54.30)" fill="#555">10<tspan font-size="3.4" dy="-2.2">3</tspan></text>
<line x1="226.2" y1="51.5" x2="227.5" y2="51.5" stroke="#555" stroke-width="0.8"/>
<text font-size="4.8" transform="translate(217.50,75.30)" fill="#555">10<tspan font-size="3.4" dy="-2.2">2</tspan></text>
<line x1="226.2" y1="72.5" x2="227.5" y2="72.5" stroke="#555" stroke-width="0.8"/>
<text font-size="4.8" transform="translate(217.50,96.30)" fill="#555">10<tspan font-size="3.4" dy="-2.2">1</tspan></text>
<line x1="226.2" y1="93.5" x2="227.5" y2="93.5" stroke="#555" stroke-width="0.8"/>
<text font-size="4.8" transform="translate(217.50,115.80)" fill="#555">10<tspan font-size="3.4" dy="-2.2">0</tspan></text>
<line x1="226.2" y1="113.0" x2="227.5" y2="113.0" stroke="#555" stroke-width="0.8"/>
<text font-size="4.4" transform="translate(228.50,120.50)" text-anchor="middle" fill="#666">0</text>
<text font-size="4.4" transform="translate(252.00,120.50)" text-anchor="middle" fill="#666">200</text>
<text font-size="4.4" transform="translate(275.50,120.50)" text-anchor="middle" fill="#666">400</text>
<text font-size="4.4" transform="translate(299.00,120.50)" text-anchor="middle" fill="#666">600</text>
<line x1="26.8" y1="42.0" x2="26.8" y2="126.2" stroke="#000" stroke-width="1.6"/>
<line x1="25.9" y1="126.2" x2="309.7" y2="126.2" stroke="#000" stroke-width="1.7"/>
<text font-size="9.3" transform="translate(17.00,78.30) rotate(-90) scale(1,1.18)" text-anchor="middle" textLength="43.5" lengthAdjust="spacingAndGlyphs" stroke="#000" stroke-width="0.2">BrdU-APC</text>
<text font-size="9.6" transform="translate(152.70,143.20) scale(1,1.1)" textLength="28.0" lengthAdjust="spacingAndGlyphs" stroke="#000" stroke-width="0.2">7-AAD</text>
<line x1="353.9" y1="24.6" x2="353.9" y2="126.1" stroke="#000" stroke-width="1.4"/>
<line x1="353.2" y1="126.1" x2="481.5" y2="126.1" stroke="#000" stroke-width="1.4"/>
<line x1="350.2" y1="126.1" x2="353.9" y2="126.1" stroke="#000" stroke-width="1.3"/>
<text font-size="7.8" transform="translate(346.20,128.91) scale(1,1.18)" text-anchor="end" fill="#111" stroke="#111" stroke-width="0.2">0</text>
<line x1="350.2" y1="113.4" x2="353.9" y2="113.4" stroke="#000" stroke-width="1.3"/>
<text font-size="7.8" transform="translate(346.20,116.26) scale(1,1.18)" text-anchor="end" fill="#111" stroke="#111" stroke-width="0.2">5</text>
<line x1="350.2" y1="100.8" x2="353.9" y2="100.8" stroke="#000" stroke-width="1.3"/>
<text font-size="7.8" transform="translate(346.20,103.61) scale(1,1.18)" text-anchor="end" fill="#111" stroke="#111" stroke-width="0.2">10</text>
<line x1="350.2" y1="88.2" x2="353.9" y2="88.2" stroke="#000" stroke-width="1.3"/>
<text font-size="7.8" transform="translate(346.20,90.96) scale(1,1.18)" text-anchor="end" fill="#111" stroke="#111" stroke-width="0.2">15</text>
<line x1="350.2" y1="75.5" x2="353.9" y2="75.5" stroke="#000" stroke-width="1.3"/>
<text font-size="7.8" transform="translate(346.20,78.31) scale(1,1.18)" text-anchor="end" fill="#111" stroke="#111" stroke-width="0.2">20</text>
<line x1="350.2" y1="62.9" x2="353.9" y2="62.9" stroke="#000" stroke-width="1.3"/>
<text font-size="7.8" transform="translate(346.20,65.66) scale(1,1.18)" text-anchor="end" fill="#111" stroke="#111" stroke-width="0.2">25</text>
<line x1="350.2" y1="50.2" x2="353.9" y2="50.2" stroke="#000" stroke-width="1.3"/>
<text font-size="7.8" transform="translate(346.20,53.01) scale(1,1.18)" text-anchor="end" fill="#111" stroke="#111" stroke-width="0.2">30</text>
<line x1="350.2" y1="37.5" x2="353.9" y2="37.5" stroke="#000" stroke-width="1.3"/>
<text font-size="7.8" transform="translate(346.20,40.36) scale(1,1.18)" text-anchor="end" fill="#111" stroke="#111" stroke-width="0.2">35</text>
<line x1="350.2" y1="24.9" x2="353.9" y2="24.9" stroke="#000" stroke-width="1.3"/>
<text font-size="7.8" transform="translate(346.20,27.71) scale(1,1.18)" text-anchor="end" fill="#111" stroke="#111" stroke-width="0.2">40</text>
<rect x="366.8" y="46.4" width="16.8" height="79.7" fill="#a7a7a7"/>
<rect x="366.8" y="77.0" width="16.8" height="49.1" fill="#000"/>
<line x1="375.2" y1="46.4" x2="375.2" y2="40.6" stroke="#000" stroke-width="1.8"/>
<line x1="372.2" y1="40.6" x2="378.2" y2="40.6" stroke="#000" stroke-width="1.8"/>
<line x1="375.2" y1="77.0" x2="375.2" y2="70.9" stroke="#000" stroke-width="1.8"/>
<line x1="372.2" y1="70.9" x2="378.2" y2="70.9" stroke="#000" stroke-width="1.8"/>
<rect x="409.2" y="51.2" width="16.6" height="74.9" fill="#a7a7a7"/>
<rect x="409.2" y="95.0" width="16.6" height="31.1" fill="#000"/>
<line x1="417.5" y1="51.2" x2="417.5" y2="42.9" stroke="#000" stroke-width="1.8"/>
<line x1="414.5" y1="42.9" x2="420.5" y2="42.9" stroke="#000" stroke-width="1.8"/>
<line x1="417.5" y1="95.0" x2="417.5" y2="91.9" stroke="#000" stroke-width="1.8"/>
<line x1="414.5" y1="91.9" x2="420.5" y2="91.9" stroke="#000" stroke-width="1.8"/>
<rect x="450.9" y="51.7" width="16.7" height="74.4" fill="#a7a7a7"/>
<rect x="450.9" y="106.4" width="16.7" height="19.7" fill="#000"/>
<line x1="459.2" y1="51.7" x2="459.2" y2="47.7" stroke="#000" stroke-width="1.8"/>
<line x1="456.2" y1="47.7" x2="462.2" y2="47.7" stroke="#000" stroke-width="1.8"/>
<line x1="459.2" y1="106.4" x2="459.2" y2="98.5" stroke="#000" stroke-width="1.8"/>
<line x1="456.2" y1="98.5" x2="462.2" y2="98.5" stroke="#000" stroke-width="1.8"/>
<path d="M459.80,93.90L459.80,90.90M459.80,93.90L462.65,92.97M459.80,93.90L461.56,96.33M459.80,93.90L458.04,96.33M459.80,93.90L456.95,92.97" stroke="#000" stroke-width="1.2" fill="none" stroke-linecap="butt"/>
<rect x="479.6" y="73.7" width="6.8" height="6.2" fill="#a7a7a7"/>
<text font-size="8.8" transform="translate(488.30,80.50)" textLength="18.6" lengthAdjust="spacingAndGlyphs" stroke="#000" stroke-width="0.2">Early</text>
<rect x="479.6" y="83.2" width="6.8" height="6.2" fill="#000"/>
<text font-size="8.8" transform="translate(488.30,89.90)" stroke="#000" stroke-width="0.2">Late</text>
<text font-size="9.5" transform="translate(354.50,142.80) scale(1,1.18)" textLength="38.1" lengthAdjust="spacingAndGlyphs" stroke="#000" stroke-width="0.2">SKP2+/+</text>
<text font-size="9.5" transform="translate(401.30,142.80) scale(1,1.18)" textLength="35.7" lengthAdjust="spacingAndGlyphs" stroke="#000" stroke-width="0.2">SKP2+/-</text>
<text font-size="9.5" transform="translate(445.60,142.80) scale(1,1.18)" textLength="32.9" lengthAdjust="spacingAndGlyphs" stroke="#000" stroke-width="0.2">SKP2-/-</text>
<text font-size="9.5" transform="translate(329.30,75.20) rotate(-90) scale(1,1.18)" text-anchor="middle" textLength="76.0" lengthAdjust="spacingAndGlyphs" stroke="#000" stroke-width="0.2">% LSK in S-phase</text>
<text font-size="9.7" transform="translate(48.00,186.70) scale(1,1.18)" textLength="51.0" lengthAdjust="spacingAndGlyphs" stroke="#000" stroke-width="0.2">Gated in LK</text>
<rect x="30.5" y="196.5" width="91.5" height="78.0" fill="none" stroke="#999" stroke-width="1.0"/>
<line x1="28.3" y1="274.5" x2="30.5" y2="274.5" stroke="#999" stroke-width="0.6"/>
<text font-size="4.2" transform="translate(25.10,276.10)" text-anchor="end" fill="#777">0</text>
<line x1="28.3" y1="258.9" x2="30.5" y2="258.9" stroke="#999" stroke-width="0.6"/>
<text font-size="4.2" transform="translate(25.10,260.50)" text-anchor="end" fill="#777">20</text>
<line x1="28.3" y1="243.3" x2="30.5" y2="243.3" stroke="#999" stroke-width="0.6"/>
<text font-size="4.2" transform="translate(25.10,244.90)" text-anchor="end" fill="#777">40</text>
<line x1="28.3" y1="227.7" x2="30.5" y2="227.7" stroke="#999" stroke-width="0.6"/>
<text font-size="4.2" transform="translate(25.10,229.30)" text-anchor="end" fill="#777">60</text>
<line x1="28.3" y1="212.1" x2="30.5" y2="212.1" stroke="#999" stroke-width="0.6"/>
<text font-size="4.2" transform="translate(25.10,213.70)" text-anchor="end" fill="#777">80</text>
<line x1="28.3" y1="196.5" x2="30.5" y2="196.5" stroke="#999" stroke-width="0.6"/>
<text font-size="4.2" transform="translate(25.10,198.10)" text-anchor="end" fill="#777">100</text>
<line x1="30.8" y1="274.5" x2="30.8" y2="276.3" stroke="#999" stroke-width="0.6"/>
<text font-size="4.2" transform="translate(30.80,283.10)" text-anchor="middle" fill="#777">10<tspan font-size="3" dy="-2">0</tspan></text>
<line x1="54.0" y1="274.5" x2="54.0" y2="276.3" stroke="#999" stroke-width="0.6"/>
<text font-size="4.2" transform="translate(54.04,283.10)" text-anchor="middle" fill="#777">10<tspan font-size="3" dy="-2">1</tspan></text>
<line x1="77.3" y1="274.5" x2="77.3" y2="276.3" stroke="#999" stroke-width="0.6"/>
<text font-size="4.2" transform="translate(77.28,283.10)" text-anchor="middle" fill="#777">10<tspan font-size="3" dy="-2">2</tspan></text>
<line x1="100.5" y1="274.5" x2="100.5" y2="276.3" stroke="#999" stroke-width="0.6"/>
<text font-size="4.2" transform="translate(100.52,283.10)" text-anchor="middle" fill="#777">10<tspan font-size="3" dy="-2">3</tspan></text>
<polygon points="60.0,275.0 62.9,255.1 65.5,252.5 69.0,249.0 71.9,246.4 74.2,249.9 77.7,256.0 80.6,262.1 84.7,267.3 88.1,271.7 91.6,275.0" fill="#0a0ae0" stroke="#101060" stroke-width="0.5" stroke-linejoin="round"/>
<polygon points="45.5,275.0 47.2,274.0 48.9,269.9 50.7,261.2 52.4,238.6 54.2,212.4 55.6,202.0 56.8,207.2 58.5,229.8 60.3,247.3 62.0,255.1 64.6,256.0 69.8,259.5 76.8,262.1 81.2,263.8 84.7,267.3 88.1,271.7 91.6,274.5 93.5,275.0" fill="#e80404" stroke="#700" stroke-width="0.4" stroke-linejoin="round"/>
<line x1="30.5" y1="196.0" x2="30.5" y2="275.0" stroke="#666" stroke-width="1"/>
<line x1="30.0" y1="274.5" x2="122.0" y2="274.5" stroke="#555" stroke-width="1"/>
<rect x="78.1" y="200.7" width="5.7" height="6.0" fill="#1010b0"/>
<rect x="78.1" y="209.2" width="5.7" height="5.6" fill="#cc0606"/>
<text font-size="7.6" transform="translate(87.30,207.00) scale(1,1.18)" fill="#222" textLength="31.0" lengthAdjust="spacingAndGlyphs" stroke="#222" stroke-width="0.2">SKP2+/+</text>
<text font-size="7.6" transform="translate(87.30,215.20) scale(1,1.18)" fill="#222" textLength="27.5" lengthAdjust="spacingAndGlyphs" stroke="#222" stroke-width="0.2">SKP2-/-</text>
<text font-size="9.5" transform="translate(16.30,239.40) rotate(-90)" text-anchor="middle" textLength="29.4" lengthAdjust="spacingAndGlyphs" stroke="#000" stroke-width="0.2">Counts</text>
<text font-size="9.4" transform="translate(46.60,300.70) scale(1,1.18)" textLength="44.4" lengthAdjust="spacingAndGlyphs" stroke="#000" stroke-width="0.2">BrdU-APC</text>
<line x1="161.5" y1="169.6" x2="161.5" y2="301.4" stroke="#000" stroke-width="1.4"/>
<line x1="160.8" y1="301.4" x2="271.0" y2="301.4" stroke="#000" stroke-width="1.4"/>
<line x1="156.5" y1="301.4" x2="161.5" y2="301.4" stroke="#000" stroke-width="1.3"/>
<text font-size="7.6" transform="translate(154.20,304.14) scale(1,1.18)" text-anchor="end" fill="#111" stroke="#111" stroke-width="0.2">0</text>
<line x1="156.5" y1="279.5" x2="161.5" y2="279.5" stroke="#000" stroke-width="1.3"/>
<text font-size="7.6" transform="translate(154.20,282.24) scale(1,1.18)" text-anchor="end" fill="#111" stroke="#111" stroke-width="0.2">10</text>
<line x1="156.5" y1="257.6" x2="161.5" y2="257.6" stroke="#000" stroke-width="1.3"/>
<text font-size="7.6" transform="translate(154.20,260.34) scale(1,1.18)" text-anchor="end" fill="#111" stroke="#111" stroke-width="0.2">20</text>
<line x1="156.5" y1="235.7" x2="161.5" y2="235.7" stroke="#000" stroke-width="1.3"/>
<text font-size="7.6" transform="translate(154.20,238.44) scale(1,1.18)" text-anchor="end" fill="#111" stroke="#111" stroke-width="0.2">30</text>
<line x1="156.5" y1="213.8" x2="161.5" y2="213.8" stroke="#000" stroke-width="1.3"/>
<text font-size="7.6" transform="translate(154.20,216.54) scale(1,1.18)" text-anchor="end" fill="#111" stroke="#111" stroke-width="0.2">40</text>
<line x1="156.5" y1="191.9" x2="161.5" y2="191.9" stroke="#000" stroke-width="1.3"/>
<text font-size="7.6" transform="translate(154.20,194.64) scale(1,1.18)" text-anchor="end" fill="#111" stroke="#111" stroke-width="0.2">50</text>
<line x1="156.5" y1="170.0" x2="161.5" y2="170.0" stroke="#000" stroke-width="1.3"/>
<text font-size="7.6" transform="translate(154.20,172.74) scale(1,1.18)" text-anchor="end" fill="#111" stroke="#111" stroke-width="0.2">60</text>
<rect x="172.6" y="189.1" width="16.2" height="112.3" fill="#a7a7a7"/>
<rect x="172.6" y="274.0" width="16.2" height="27.4" fill="#000"/>
<line x1="180.7" y1="189.1" x2="180.7" y2="185.1" stroke="#000" stroke-width="1.8"/>
<line x1="177.7" y1="185.1" x2="183.7" y2="185.1" stroke="#000" stroke-width="1.8"/>
<line x1="180.7" y1="274.0" x2="180.7" y2="267.9" stroke="#000" stroke-width="1.8"/>
<line x1="177.7" y1="267.9" x2="183.7" y2="267.9" stroke="#000" stroke-width="1.8"/>
<rect x="211.7" y="189.1" width="15.9" height="112.3" fill="#a7a7a7"/>
<rect x="211.7" y="275.6" width="15.9" height="25.8" fill="#000"/>
<line x1="219.6" y1="189.1" x2="219.6" y2="183.1" stroke="#000" stroke-width="1.8"/>
<line x1="216.6" y1="183.1" x2="222.6" y2="183.1" stroke="#000" stroke-width="1.8"/>
<line x1="219.6" y1="275.6" x2="219.6" y2="266.1" stroke="#000" stroke-width="1.8"/>
<line x1="216.6" y1="266.1" x2="222.6" y2="266.1" stroke="#000" stroke-width="1.8"/>
<rect x="251.0" y="206.6" width="15.9" height="94.8" fill="#a7a7a7"/>
<rect x="251.0" y="287.3" width="15.9" height="14.1" fill="#000"/>
<line x1="258.9" y1="206.6" x2="258.9" y2="203.1" stroke="#000" stroke-width="1.8"/>
<line x1="255.9" y1="203.1" x2="261.9" y2="203.1" stroke="#000" stroke-width="1.8"/>
<line x1="258.9" y1="287.3" x2="258.9" y2="284.0" stroke="#000" stroke-width="1.8"/>
<line x1="255.9" y1="284.0" x2="261.9" y2="284.0" stroke="#000" stroke-width="1.8"/>
<path d="M259.00,195.70L259.00,192.30M259.00,195.70L262.23,194.65M259.00,195.70L261.00,198.45M259.00,195.70L257.00,198.45M259.00,195.70L255.77,194.65" stroke="#000" stroke-width="1.25" fill="none" stroke-linecap="butt"/>
<rect x="238.0" y="161.2" width="7.8" height="7.0" fill="#a7a7a7"/>
<text font-size="9.2" transform="translate(249.20,168.50) scale(1,1.18)" textLength="21.4" lengthAdjust="spacingAndGlyphs" stroke="#000" stroke-width="0.2">Early</text>
<rect x="238.0" y="172.5" width="7.8" height="6.9" fill="#000"/>
<text font-size="9.2" transform="translate(249.20,178.40) scale(1,1.18)" stroke="#000" stroke-width="0.2">Late</text>
<text font-size="9.2" transform="translate(161.60,317.10) scale(1,1.18)" textLength="38.2" lengthAdjust="spacingAndGlyphs" stroke="#000" stroke-width="0.2">SKP2+/+</text>
<text font-size="9.2" transform="translate(203.00,317.10) scale(1,1.18)" textLength="35.8" lengthAdjust="spacingAndGlyphs" stroke="#000" stroke-width="0.2">SKP2+/-</text>
<text font-size="9.2" transform="translate(241.50,317.10) scale(1,1.18)" textLength="34.5" lengthAdjust="spacingAndGlyphs" stroke="#000" stroke-width="0.2">SKP2-/-</text>
<text font-size="9.5" transform="translate(140.50,234.50) rotate(-90) scale(1,1.18)" text-anchor="middle" textLength="70.6" lengthAdjust="spacingAndGlyphs" stroke="#000" stroke-width="0.2">% LK in S-phase</text>
<text font-size="9.6" transform="translate(319.20,188.60) scale(1,1.02)" stroke="#000" stroke-width="0.2">Gated in Lin<tspan font-size="5.5" dy="-2.8">−</tspan></text>
<rect x="302.5" y="196.5" width="93.0" height="80.0" fill="none" stroke="#999" stroke-width="1.0"/>
<line x1="300.3" y1="276.5" x2="302.5" y2="276.5" stroke="#999" stroke-width="0.6"/>
<text font-size="4.2" transform="translate(297.10,278.10)" text-anchor="end" fill="#777">0</text>
<line x1="300.3" y1="260.5" x2="302.5" y2="260.5" stroke="#999" stroke-width="0.6"/>
<text font-size="4.2" transform="translate(297.10,262.10)" text-anchor="end" fill="#777">20</text>
<line x1="300.3" y1="244.5" x2="302.5" y2="244.5" stroke="#999" stroke-width="0.6"/>
<text font-size="4.2" transform="translate(297.10,246.10)" text-anchor="end" fill="#777">40</text>
<line x1="300.3" y1="228.5" x2="302.5" y2="228.5" stroke="#999" stroke-width="0.6"/>
<text font-size="4.2" transform="translate(297.10,230.10)" text-anchor="end" fill="#777">60</text>
<line x1="300.3" y1="212.5" x2="302.5" y2="212.5" stroke="#999" stroke-width="0.6"/>
<text font-size="4.2" transform="translate(297.10,214.10)" text-anchor="end" fill="#777">80</text>
<line x1="300.3" y1="196.5" x2="302.5" y2="196.5" stroke="#999" stroke-width="0.6"/>
<text font-size="4.2" transform="translate(297.10,198.10)" text-anchor="end" fill="#777">100</text>
<line x1="302.8" y1="276.5" x2="302.8" y2="278.3" stroke="#999" stroke-width="0.6"/>
<text font-size="4.2" transform="translate(302.80,285.10)" text-anchor="middle" fill="#777">10<tspan font-size="3" dy="-2">0</tspan></text>
<line x1="326.4" y1="276.5" x2="326.4" y2="278.3" stroke="#999" stroke-width="0.6"/>
<text font-size="4.2" transform="translate(326.42,285.10)" text-anchor="middle" fill="#777">10<tspan font-size="3" dy="-2">1</tspan></text>
<line x1="350.0" y1="276.5" x2="350.0" y2="278.3" stroke="#999" stroke-width="0.6"/>
<text font-size="4.2" transform="translate(350.04,285.10)" text-anchor="middle" fill="#777">10<tspan font-size="3" dy="-2">2</tspan></text>
<line x1="373.7" y1="276.5" x2="373.7" y2="278.3" stroke="#999" stroke-width="0.6"/>
<text font-size="4.2" transform="translate(373.67,285.10)" text-anchor="middle" fill="#777">10<tspan font-size="3" dy="-2">3</tspan></text>
<polygon points="322.0,276.5 323.0,209.2 325.2,216.8 326.8,232.0 328.5,247.0 329.4,253.8 331.9,253.8 334.4,252.0 337.8,251.3 339.5,252.0 342.0,255.5 345.3,258.8 348.7,264.7 353.7,269.7 358.8,274.8 361.3,276.5" fill="#0a0ae0" stroke="#101060" stroke-width="0.5" stroke-linejoin="round"/>
<polygon points="315.1,276.5 317.6,270.6 319.3,250.4 321.0,225.2 321.8,210.9 323.0,209.2 324.3,213.4 326.0,233.6 327.7,248.7 330.2,258.0 334.4,262.2 340.3,264.7 345.3,268.9 350.4,274.0 353.7,276.5" fill="#e80404" stroke="#700" stroke-width="0.4" stroke-linejoin="round"/>
<line x1="302.5" y1="196.0" x2="302.5" y2="277.0" stroke="#666" stroke-width="1"/>
<line x1="302.0" y1="276.5" x2="396.0" y2="276.5" stroke="#555" stroke-width="1"/>
<rect x="354.3" y="200.7" width="5.3" height="5.6" fill="#1010b0"/>
<rect x="354.3" y="210.0" width="5.3" height="5.5" fill="#cc0606"/>
<text font-size="7.6" transform="translate(361.30,206.80) scale(1,1.18)" fill="#222" textLength="30.8" lengthAdjust="spacingAndGlyphs" stroke="#222" stroke-width="0.2">SKP2+/+</text>
<text font-size="7.6" transform="translate(361.30,215.60) scale(1,1.18)" fill="#222" textLength="26.6" lengthAdjust="spacingAndGlyphs" stroke="#222" stroke-width="0.2">SKP2-/-</text>
<text font-size="9.3" transform="translate(289.90,239.40) rotate(-90)" text-anchor="middle" textLength="29.1" lengthAdjust="spacingAndGlyphs" stroke="#000" stroke-width="0.2">Counts</text>
<text font-size="9.4" transform="translate(325.20,302.20) scale(1,1.18)" textLength="43.4" lengthAdjust="spacingAndGlyphs" stroke="#000" stroke-width="0.2">BrdU-APC</text>
<line x1="436.4" y1="168.5" x2="436.4" y2="301.3" stroke="#000" stroke-width="1.4"/>
<line x1="435.7" y1="301.3" x2="511.0" y2="301.3" stroke="#000" stroke-width="1.4"/>
<line x1="432.4" y1="301.3" x2="436.4" y2="301.3" stroke="#000" stroke-width="1.3"/>
<text font-size="7.6" transform="translate(430.50,304.04) scale(1,1.18)" text-anchor="end" fill="#111" stroke="#111" stroke-width="0.2">0</text>
<line x1="432.4" y1="279.2" x2="436.4" y2="279.2" stroke="#000" stroke-width="1.3"/>
<text font-size="7.6" transform="translate(430.50,281.89) scale(1,1.18)" text-anchor="end" fill="#111" stroke="#111" stroke-width="0.2">5</text>
<line x1="432.4" y1="257.0" x2="436.4" y2="257.0" stroke="#000" stroke-width="1.3"/>
<text font-size="7.6" transform="translate(430.50,259.74) scale(1,1.18)" text-anchor="end" fill="#111" stroke="#111" stroke-width="0.2">10</text>
<line x1="432.4" y1="234.9" x2="436.4" y2="234.9" stroke="#000" stroke-width="1.3"/>
<text font-size="7.6" transform="translate(430.50,237.59) scale(1,1.18)" text-anchor="end" fill="#111" stroke="#111" stroke-width="0.2">15</text>
<line x1="432.4" y1="212.7" x2="436.4" y2="212.7" stroke="#000" stroke-width="1.3"/>
<text font-size="7.6" transform="translate(430.50,215.44) scale(1,1.18)" text-anchor="end" fill="#111" stroke="#111" stroke-width="0.2">20</text>
<line x1="432.4" y1="190.6" x2="436.4" y2="190.6" stroke="#000" stroke-width="1.3"/>
<text font-size="7.6" transform="translate(430.50,193.29) scale(1,1.18)" text-anchor="end" fill="#111" stroke="#111" stroke-width="0.2">25</text>
<line x1="432.4" y1="168.4" x2="436.4" y2="168.4" stroke="#000" stroke-width="1.3"/>
<text font-size="7.6" transform="translate(430.50,171.14) scale(1,1.18)" text-anchor="end" fill="#111" stroke="#111" stroke-width="0.2">30</text>
<rect x="443.7" y="189.2" width="16.8" height="112.1" fill="#a7a7a7"/>
<line x1="452.1" y1="189.2" x2="452.1" y2="178.6" stroke="#000" stroke-width="1.8"/>
<line x1="449.1" y1="178.6" x2="455.1" y2="178.6" stroke="#000" stroke-width="1.8"/>
<rect x="481.3" y="225.5" width="16.2" height="75.8" fill="#000"/>
<line x1="489.4" y1="225.5" x2="489.4" y2="218.9" stroke="#000" stroke-width="1.8"/>
<line x1="486.4" y1="218.9" x2="492.4" y2="218.9" stroke="#000" stroke-width="1.8"/>
<path d="M490.20,213.00L490.20,209.60M490.20,213.00L493.43,211.95M490.20,213.00L492.20,215.75M490.20,213.00L488.20,215.75M490.20,213.00L486.97,211.95" stroke="#000" stroke-width="1.25" fill="none" stroke-linecap="butt"/>
<text font-size="9.2" transform="translate(434.60,318.30) scale(1,1.18)" textLength="39.2" lengthAdjust="spacingAndGlyphs" stroke="#000" stroke-width="0.2">SKP2+/+</text>
<text font-size="9.2" transform="translate(479.40,318.30) scale(1,1.18)" textLength="36.0" lengthAdjust="spacingAndGlyphs" stroke="#000" stroke-width="0.2">SKP2-/-</text>
<text font-size="9.5" transform="translate(413.20,245.00) rotate(-90) scale(1,1.18)" text-anchor="middle" textLength="69.0" lengthAdjust="spacingAndGlyphs" stroke="#000" stroke-width="0.2">% Lin  in S-phase</text>
<line x1="41.4" y1="346.3" x2="41.4" y2="459.4" stroke="#000" stroke-width="1.3"/>
<line x1="40.8" y1="459.4" x2="212.0" y2="459.4" stroke="#000" stroke-width="1.3"/>
<line x1="37.9" y1="459.4" x2="41.4" y2="459.4" stroke="#000" stroke-width="1.2"/>
<text font-size="8.2" transform="translate(37.00,462.30) scale(1,1.18)" text-anchor="end" fill="#111" stroke="#111" stroke-width="0.2">0</text>
<line x1="37.9" y1="440.7" x2="41.4" y2="440.7" stroke="#000" stroke-width="1.2"/>
<text font-size="8.2" transform="translate(37.00,443.60) scale(1,1.18)" text-anchor="end" fill="#111" stroke="#111" stroke-width="0.2">10</text>
<line x1="37.9" y1="422.0" x2="41.4" y2="422.0" stroke="#000" stroke-width="1.2"/>
<text font-size="8.2" transform="translate(37.00,424.90) scale(1,1.18)" text-anchor="end" fill="#111" stroke="#111" stroke-width="0.2">20</text>
<line x1="37.9" y1="403.3" x2="41.4" y2="403.3" stroke="#000" stroke-width="1.2"/>
<text font-size="8.2" transform="translate(37.00,406.20) scale(1,1.18)" text-anchor="end" fill="#111" stroke="#111" stroke-width="0.2">30</text>
<line x1="37.9" y1="384.6" x2="41.4" y2="384.6" stroke="#000" stroke-width="1.2"/>
<text font-size="8.2" transform="translate(37.00,387.50) scale(1,1.18)" text-anchor="end" fill="#111" stroke="#111" stroke-width="0.2">40</text>
<line x1="37.9" y1="365.9" x2="41.4" y2="365.9" stroke="#000" stroke-width="1.2"/>
<text font-size="8.2" transform="translate(37.00,368.80) scale(1,1.18)" text-anchor="end" fill="#111" stroke="#111" stroke-width="0.2">50</text>
<line x1="37.9" y1="347.2" x2="41.4" y2="347.2" stroke="#000" stroke-width="1.2"/>
<text font-size="8.2" transform="translate(37.00,350.10) scale(1,1.18)" text-anchor="end" fill="#111" stroke="#111" stroke-width="0.2">60</text>
<text font-size="9.5" transform="translate(17.00,410.00) rotate(-90) scale(1,1.18)" text-anchor="middle" textLength="74.3" lengthAdjust="spacingAndGlyphs" stroke="#000" stroke-width="0.2">% Lin in  S-phase</text>
<polyline points="70.8,446.0 127.6,431.6 185.0,355.0" fill="none" stroke="#6a6a6a" stroke-width="1.9"/>
<polyline points="70.8,446.3 127.6,439.6 185.0,385.6" fill="none" stroke="#000" stroke-width="2.3"/>
<line x1="185.0" y1="347.6" x2="185.0" y2="362.9" stroke="#666" stroke-width="1.5"/>
<line x1="182.8" y1="347.6" x2="187.2" y2="347.6" stroke="#666" stroke-width="1.4"/>
<line x1="182.8" y1="362.9" x2="187.2" y2="362.9" stroke="#666" stroke-width="1.4"/>
<line x1="185.0" y1="380.8" x2="185.0" y2="391.3" stroke="#000" stroke-width="1.5"/>
<line x1="182.8" y1="380.8" x2="187.2" y2="380.8" stroke="#000" stroke-width="1.4"/>
<line x1="182.8" y1="391.3" x2="187.2" y2="391.3" stroke="#000" stroke-width="1.4"/>
<line x1="70.8" y1="442.3" x2="70.8" y2="449.5" stroke="#000" stroke-width="1.5"/>
<line x1="68.6" y1="442.3" x2="73.0" y2="442.3" stroke="#000" stroke-width="1.4"/>
<line x1="68.6" y1="449.5" x2="73.0" y2="449.5" stroke="#000" stroke-width="1.4"/>
<line x1="127.6" y1="429.5" x2="127.6" y2="433.5" stroke="#777" stroke-width="1.5"/>
<line x1="125.4" y1="429.5" x2="129.8" y2="429.5" stroke="#777" stroke-width="1.4"/>
<line x1="125.4" y1="433.5" x2="129.8" y2="433.5" stroke="#777" stroke-width="1.4"/>
<polygon points="70.8,443.0 73.8,446.0 70.8,449.0 67.8,446.0" fill="#777"/>
<polygon points="127.6,428.6 130.6,431.6 127.6,434.6 124.6,431.6" fill="#777"/>
<polygon points="185.0,352.0 188.0,355.0 185.0,358.0 182.0,355.0" fill="#777"/>
<rect x="68.5" y="444.1" width="4.5" height="4.5" fill="#000"/>
<rect x="125.1" y="437.1" width="5.0" height="5.0" fill="#000"/>
<rect x="182.9" y="383.5" width="4.2" height="4.2" fill="#000"/>
<text font-size="9.4" transform="translate(190.70,358.90) scale(1,1.15)" textLength="37.2" lengthAdjust="spacingAndGlyphs" stroke="#000" stroke-width="0.2">SKP2+/+</text>
<text font-size="9.4" transform="translate(190.70,388.70) scale(1,1.15)" textLength="33.0" lengthAdjust="spacingAndGlyphs" stroke="#000" stroke-width="0.2">SKP2-/-</text>
<path d="M127.20,448.20L127.20,444.90M127.20,448.20L130.34,447.18M127.20,448.20L129.14,450.87M127.20,448.20L125.26,450.87M127.20,448.20L124.06,447.18" stroke="#000" stroke-width="1.25" fill="none" stroke-linecap="butt"/>
<path d="M184.90,399.00L184.90,395.70M184.90,399.00L188.04,397.98M184.90,399.00L186.84,401.67M184.90,399.00L182.96,401.67M184.90,399.00L181.76,397.98" stroke="#000" stroke-width="1.25" fill="none" stroke-linecap="butt"/>
<text font-size="9.5" transform="translate(69.80,472.80) scale(1,1.08)" text-anchor="middle" stroke="#000" stroke-width="0.2">0h</text>
<text font-size="9.5" transform="translate(130.20,472.80) scale(1,1.08)" text-anchor="middle" stroke="#000" stroke-width="0.2">12h</text>
<text font-size="9.5" transform="translate(186.00,472.80) scale(1,1.08)" text-anchor="middle" stroke="#000" stroke-width="0.2">24h</text>
<line x1="245.4" y1="358.2" x2="245.4" y2="459.3" stroke="#000" stroke-width="1.5"/>
<line x1="244.7" y1="459.3" x2="515.4" y2="459.3" stroke="#000" stroke-width="1.5"/>
<text font-size="9.5" transform="translate(252.50,355.20) scale(1,1.06)" textLength="20.4" lengthAdjust="spacingAndGlyphs" stroke="#000" stroke-width="0.2">Time</text>
<text font-size="9.5" transform="translate(289.30,362.80) scale(1,1.08)" stroke="#000" stroke-width="0.2">0h</text>
<text font-size="9.5" transform="translate(375.90,362.80) scale(1,1.08)" stroke="#000" stroke-width="0.2">12h</text>
<text font-size="9.5" transform="translate(465.60,362.80) scale(1,1.08)" stroke="#000" stroke-width="0.2">24h</text>
<rect x="258.5" y="366.5" width="74.5" height="78.0" fill="none" stroke="#333" stroke-width="1.0"/>
<line x1="256.3" y1="444.5" x2="258.5" y2="444.5" stroke="#999" stroke-width="0.6"/>
<text font-size="3.6" transform="translate(253.10,446.10)" text-anchor="end" fill="#777">0</text>
<line x1="256.3" y1="428.9" x2="258.5" y2="428.9" stroke="#999" stroke-width="0.6"/>
<text font-size="3.6" transform="translate(253.10,430.50)" text-anchor="end" fill="#777">20</text>
<line x1="256.3" y1="413.3" x2="258.5" y2="413.3" stroke="#999" stroke-width="0.6"/>
<text font-size="3.6" transform="translate(253.10,414.90)" text-anchor="end" fill="#777">40</text>
<line x1="256.3" y1="397.7" x2="258.5" y2="397.7" stroke="#999" stroke-width="0.6"/>
<text font-size="3.6" transform="translate(253.10,399.30)" text-anchor="end" fill="#777">60</text>
<line x1="256.3" y1="382.1" x2="258.5" y2="382.1" stroke="#999" stroke-width="0.6"/>
<text font-size="3.6" transform="translate(253.10,383.70)" text-anchor="end" fill="#777">80</text>
<line x1="256.3" y1="366.5" x2="258.5" y2="366.5" stroke="#999" stroke-width="0.6"/>
<text font-size="3.6" transform="translate(253.10,368.10)" text-anchor="end" fill="#777">100</text>
<line x1="258.8" y1="444.5" x2="258.8" y2="446.3" stroke="#999" stroke-width="0.6"/>
<text font-size="3.6" transform="translate(258.80,453.10)" text-anchor="middle" fill="#777">10<tspan font-size="3" dy="-2">0</tspan></text>
<line x1="277.7" y1="444.5" x2="277.7" y2="446.3" stroke="#999" stroke-width="0.6"/>
<text font-size="3.6" transform="translate(277.72,453.10)" text-anchor="middle" fill="#777">10<tspan font-size="3" dy="-2">1</tspan></text>
<line x1="296.6" y1="444.5" x2="296.6" y2="446.3" stroke="#999" stroke-width="0.6"/>
<text font-size="3.6" transform="translate(296.65,453.10)" text-anchor="middle" fill="#777">10<tspan font-size="3" dy="-2">2</tspan></text>
<line x1="315.6" y1="444.5" x2="315.6" y2="446.3" stroke="#999" stroke-width="0.6"/>
<text font-size="3.6" transform="translate(315.57,453.10)" text-anchor="middle" fill="#777">10<tspan font-size="3" dy="-2">3</tspan></text>
<rect x="346.5" y="366.5" width="75.0" height="78.0" fill="none" stroke="#333" stroke-width="1.0"/>
<line x1="344.3" y1="444.5" x2="346.5" y2="444.5" stroke="#999" stroke-width="0.6"/>
<text font-size="3.6" transform="translate(341.10,446.10)" text-anchor="end" fill="#777">0</text>
<line x1="344.3" y1="428.9" x2="346.5" y2="428.9" stroke="#999" stroke-width="0.6"/>
<text font-size="3.6" transform="translate(341.10,430.50)" text-anchor="end" fill="#777">20</text>
<line x1="344.3" y1="413.3" x2="346.5" y2="413.3" stroke="#999" stroke-width="0.6"/>
<text font-size="3.6" transform="translate(341.10,414.90)" text-anchor="end" fill="#777">40</text>
<line x1="344.3" y1="397.7" x2="346.5" y2="397.7" stroke="#999" stroke-width="0.6"/>
<text font-size="3.6" transform="translate(341.10,399.30)" text-anchor="end" fill="#777">60</text>
<line x1="344.3" y1="382.1" x2="346.5" y2="382.1" stroke="#999" stroke-width="0.6"/>
<text font-size="3.6" transform="translate(341.10,383.70)" text-anchor="end" fill="#777">80</text>
<line x1="344.3" y1="366.5" x2="346.5" y2="366.5" stroke="#999" stroke-width="0.6"/>
<text font-size="3.6" transform="translate(341.10,368.10)" text-anchor="end" fill="#777">100</text>
<line x1="346.8" y1="444.5" x2="346.8" y2="446.3" stroke="#999" stroke-width="0.6"/>
<text font-size="3.6" transform="translate(346.80,453.10)" text-anchor="middle" fill="#777">10<tspan font-size="3" dy="-2">0</tspan></text>
<line x1="365.9" y1="444.5" x2="365.9" y2="446.3" stroke="#999" stroke-width="0.6"/>
<text font-size="3.6" transform="translate(365.85,453.10)" text-anchor="middle" fill="#777">10<tspan font-size="3" dy="-2">1</tspan></text>
<line x1="384.9" y1="444.5" x2="384.9" y2="446.3" stroke="#999" stroke-width="0.6"/>
<text font-size="3.6" transform="translate(384.90,453.10)" text-anchor="middle" fill="#777">10<tspan font-size="3" dy="-2">2</tspan></text>
<line x1="403.9" y1="444.5" x2="403.9" y2="446.3" stroke="#999" stroke-width="0.6"/>
<text font-size="3.6" transform="translate(403.95,453.10)" text-anchor="middle" fill="#777">10<tspan font-size="3" dy="-2">3</tspan></text>
<rect x="436.5" y="365.5" width="76.0" height="79.0" fill="none" stroke="#333" stroke-width="1.0"/>
<line x1="434.3" y1="444.5" x2="436.5" y2="444.5" stroke="#999" stroke-width="0.6"/>
<text font-size="3.6" transform="translate(431.10,446.10)" text-anchor="end" fill="#777">0</text>
<line x1="434.3" y1="428.7" x2="436.5" y2="428.7" stroke="#999" stroke-width="0.6"/>
<text font-size="3.6" transform="translate(431.10,430.30)" text-anchor="end" fill="#777">20</text>
<line x1="434.3" y1="412.9" x2="436.5" y2="412.9" stroke="#999" stroke-width="0.6"/>
<text font-size="3.6" transform="translate(431.10,414.50)" text-anchor="end" fill="#777">40</text>
<line x1="434.3" y1="397.1" x2="436.5" y2="397.1" stroke="#999" stroke-width="0.6"/>
<text font-size="3.6" transform="translate(431.10,398.70)" text-anchor="end" fill="#777">60</text>
<line x1="434.3" y1="381.3" x2="436.5" y2="381.3" stroke="#999" stroke-width="0.6"/>
<text font-size="3.6" transform="translate(431.10,382.90)" text-anchor="end" fill="#777">80</text>
<line x1="434.3" y1="365.5" x2="436.5" y2="365.5" stroke="#999" stroke-width="0.6"/>
<text font-size="3.6" transform="translate(431.10,367.10)" text-anchor="end" fill="#777">100</text>
<line x1="436.8" y1="444.5" x2="436.8" y2="446.3" stroke="#999" stroke-width="0.6"/>
<text font-size="3.6" transform="translate(436.80,453.10)" text-anchor="middle" fill="#777">10<tspan font-size="3" dy="-2">0</tspan></text>
<line x1="456.1" y1="444.5" x2="456.1" y2="446.3" stroke="#999" stroke-width="0.6"/>
<text font-size="3.6" transform="translate(456.10,453.10)" text-anchor="middle" fill="#777">10<tspan font-size="3" dy="-2">1</tspan></text>
<line x1="475.4" y1="444.5" x2="475.4" y2="446.3" stroke="#999" stroke-width="0.6"/>
<text font-size="3.6" transform="translate(475.41,453.10)" text-anchor="middle" fill="#777">10<tspan font-size="3" dy="-2">2</tspan></text>
<line x1="494.7" y1="444.5" x2="494.7" y2="446.3" stroke="#999" stroke-width="0.6"/>
<text font-size="3.6" transform="translate(494.71,453.10)" text-anchor="middle" fill="#777">10<tspan font-size="3" dy="-2">3</tspan></text>
<polygon points="272.0,444.2 273.7,432.0 275.2,400.0 276.8,373.8 278.4,400.0 280.0,432.0 281.5,441.5 287.0,443.0 297.0,443.6 300.0,444.2" fill="#0a0ae0" stroke="#101060" stroke-width="0.4" stroke-linejoin="round"/>
<polygon points="382.0,444.3 386.0,443.6 391.0,442.8 395.0,441.9 400.0,441.5 402.0,442.4 404.0,444.3" fill="#0a0ae0" stroke="#101060" stroke-width="0.4" stroke-linejoin="round"/>
<polygon points="361.2,444.3 362.4,432.0 363.9,405.0 365.4,374.8 367.1,405.0 368.8,432.0 370.5,443.2 380.0,443.9 386.0,444.3" fill="#e80404" stroke="#700" stroke-width="0.4" stroke-linejoin="round"/>
<polygon points="461.9,441.5 465.8,441.5 468.7,439.6 471.6,438.6 474.5,435.7 477.4,433.3 479.8,430.9 481.7,430.9 483.2,427.1 483.7,422.7 485.1,420.8 486.6,416.9 488.5,414.0 490.4,412.6 491.9,410.6 492.7,408.4 493.6,412.6 494.3,414.5 495.0,424.2 495.7,431.9 496.5,438.6 497.4,444.2 461.9,444.2" fill="#0a0ae0" stroke="#101060" stroke-width="0.4" stroke-linejoin="round"/>
<polygon points="452.1,444.2 453.0,436.4 453.9,409.6 455.2,381.0 456.1,375.7 457.5,386.4 458.9,409.6 460.0,431.0 460.8,439.0 461.9,441.0 463.9,441.5 469.7,441.7 479.3,440.6 484.2,438.6 489.0,435.7 491.9,434.3 493.8,434.8 495.3,437.7 496.5,442.3 497.4,444.2" fill="#e80404" stroke="#700" stroke-width="0.4" stroke-linejoin="round"/>
<line x1="258.0" y1="444.5" x2="333.5" y2="444.5" stroke="#222" stroke-width="1.0"/>
<line x1="346.0" y1="444.5" x2="422.0" y2="444.5" stroke="#222" stroke-width="1.0"/>
<line x1="436.0" y1="444.5" x2="513.0" y2="444.5" stroke="#222" stroke-width="1.0"/>
<rect x="410.3" y="338.0" width="5.7" height="6.6" fill="#1010b0"/>
<rect x="410.3" y="348.7" width="5.7" height="5.4" fill="#cc0606"/>
<text font-size="9.2" transform="translate(419.00,344.60) scale(1,1.05)" textLength="38.5" lengthAdjust="spacingAndGlyphs" stroke="#000" stroke-width="0.2">SKP2+/+</text>
<text font-size="9.2" transform="translate(419.00,354.50) scale(1,1.05)" textLength="34.0" lengthAdjust="spacingAndGlyphs" stroke="#000" stroke-width="0.2">SKP2-/-</text>
<text font-size="9.3" transform="translate(242.60,405.20) rotate(-90)" text-anchor="middle" textLength="30.7" lengthAdjust="spacingAndGlyphs" stroke="#000" stroke-width="0.2">Counts</text>
<text font-size="9.2" transform="translate(361.10,469.20) scale(1,1.18)" textLength="41.0" lengthAdjust="spacingAndGlyphs" stroke="#000" stroke-width="0.2">BrdU-APC</text>
</svg>
</body></html>
